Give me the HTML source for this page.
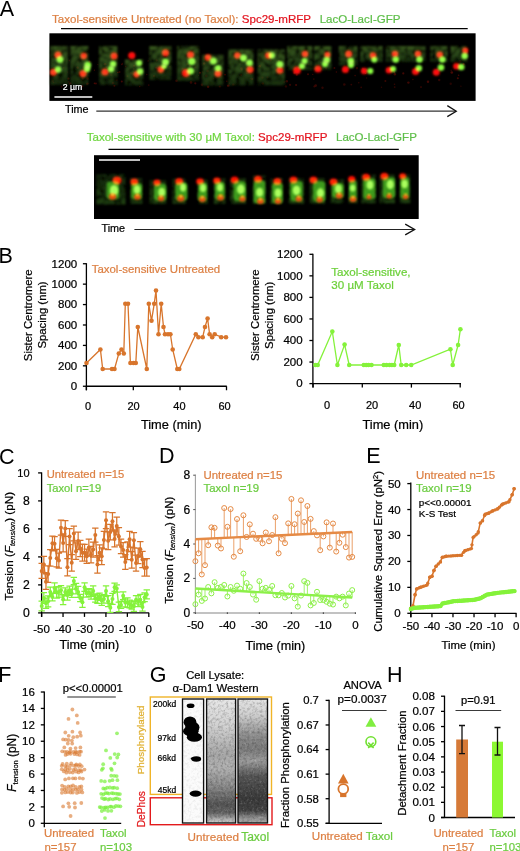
<!DOCTYPE html>
<html><head><meta charset="utf-8"><style>
html,body{margin:0;padding:0;background:#fff;width:520px;height:851px;overflow:hidden}
svg{display:block}
text{font-family:"Liberation Sans", sans-serif}
</style></head><body>
<svg width="520" height="851" viewBox="0 0 520 851">
<defs>
<filter id="blur" x="-50%" y="-50%" width="200%" height="200%"><feGaussianBlur stdDeviation="1.1"/></filter>
<filter id="blur2" x="-50%" y="-50%" width="200%" height="200%"><feGaussianBlur stdDeviation="1.8"/></filter>
<filter id="blur15" x="-50%" y="-50%" width="200%" height="200%"><feGaussianBlur stdDeviation="1.3"/></filter>
<linearGradient id="tg1" x1="0" y1="0" x2="0" y2="1"><stop offset="0" stop-color="#5a8c30"/><stop offset="0.6" stop-color="#44752a"/><stop offset="1" stop-color="#284c16"/></linearGradient>
<linearGradient id="tg2" x1="0" y1="0" x2="0" y2="1"><stop offset="0" stop-color="#2a5018"/><stop offset="1" stop-color="#3c7a22"/></linearGradient>
<filter id="tilebg" x="-15%" y="-15%" width="130%" height="130%"><feTurbulence type="fractalNoise" baseFrequency="0.22" numOctaves="3" seed="5" result="n"/><feColorMatrix in="n" type="matrix" values="2.6 0 0 0 -0.75  2.6 0 0 0 -0.75  2.6 0 0 0 -0.75  0 0 0 0 1" result="g"/><feComposite in="SourceGraphic" in2="g" operator="arithmetic" k1="1" k2="0" k3="0" k4="0" result="m"/><feGaussianBlur in="m" stdDeviation="1.1"/></filter>
<filter id="blur05" x="-50%" y="-50%" width="200%" height="200%"><feGaussianBlur stdDeviation="0.7"/></filter>

<linearGradient id="lane2" x1="0" y1="0" x2="0" y2="1"><stop offset="0" stop-color="#e6e6e6"/><stop offset="0.2" stop-color="#d2d2d2"/><stop offset="0.35" stop-color="#b8b8b8"/><stop offset="0.45" stop-color="#a6a6a6"/><stop offset="0.55" stop-color="#b0b0b0"/><stop offset="0.7" stop-color="#8a8a8a"/><stop offset="0.85" stop-color="#545454"/><stop offset="0.92" stop-color="#646464"/><stop offset="0.97" stop-color="#b0b0b0"/><stop offset="1" stop-color="#c8c8c8"/></linearGradient>
<linearGradient id="lane3" x1="0" y1="0" x2="0" y2="1"><stop offset="0" stop-color="#e2e2e2"/><stop offset="0.12" stop-color="#d0d0d0"/><stop offset="0.3" stop-color="#8c8c8c"/><stop offset="0.4" stop-color="#7a7a7a"/><stop offset="0.5" stop-color="#9a9a9a"/><stop offset="0.62" stop-color="#565656"/><stop offset="0.8" stop-color="#3a3a3a"/><stop offset="0.9" stop-color="#424242"/><stop offset="0.96" stop-color="#909090"/><stop offset="1" stop-color="#a8a8a8"/></linearGradient>
<filter id="noise" x="0" y="0" width="100%" height="100%" filterUnits="objectBoundingBox"><feTurbulence type="fractalNoise" baseFrequency="0.38" numOctaves="3" seed="4" result="n"/><feColorMatrix in="n" type="matrix" values="0 0 0 0 0  0 0 0 0 0  0 0 0 0 0  2.2 0 0 0 -0.95" result="d"/><feComposite in="d" in2="SourceAlpha" operator="in"/></filter>
<filter id="noise2" x="0" y="0" width="100%" height="100%" filterUnits="objectBoundingBox"><feTurbulence type="fractalNoise" baseFrequency="0.42" numOctaves="3" seed="9" result="n"/><feColorMatrix in="n" type="matrix" values="0 0 0 0 1  0 0 0 0 1  0 0 0 0 1  -2.2 0 0 0 1.05" result="d"/><feComposite in="d" in2="SourceAlpha" operator="in"/></filter>
</defs>
<rect width="520" height="851" fill="#fff"/>
<text x="-0.30" y="15.60" font-size="21.5" fill="#000">A</text>
<text x="-1.60" y="263.00" font-size="21.5" fill="#000">B</text>
<text x="-1.00" y="463.60" font-size="21.5" fill="#000">C</text>
<text x="159.00" y="463.00" font-size="21.5" fill="#000">D</text>
<text x="366.30" y="462.80" font-size="21.5" fill="#000">E</text>
<text x="-1.80" y="682.20" font-size="21.5" fill="#000">F</text>
<text x="149.80" y="682.10" font-size="21.5" fill="#000">G</text>
<text x="387.00" y="682.00" font-size="21.5" fill="#000">H</text>
<text x="52" y="22.5" font-size="11.55" stroke-width="0.22"><tspan fill="#dd8044" stroke="#dd8044">Taxol-sensitive Untreated (no Taxol): </tspan><tspan fill="#e3141f" stroke="#e3141f">Spc29-mRFP</tspan><tspan fill="#5fbf4a" stroke="#5fbf4a" dx="8.6">LacO-LacI-GFP</tspan></text>
<line x1="61.00" y1="28.60" x2="467.70" y2="28.60" stroke="#000" stroke-width="1.2" />
<rect x="49.4" y="33.3" width="426.2" height="67.6" fill="#000"/>
<circle cx="187.4" cy="64.2" r="1.1" fill="#5a0a04" opacity="0.43"/>
<circle cx="276.0" cy="70.2" r="0.6" fill="#5a0a04" opacity="0.60"/>
<circle cx="67.7" cy="72.1" r="0.6" fill="#5a0a04" opacity="0.44"/>
<circle cx="229.4" cy="83.2" r="0.7" fill="#5a0a04" opacity="0.49"/>
<circle cx="314.3" cy="86.5" r="1.0" fill="#5a0a04" opacity="0.56"/>
<circle cx="460.1" cy="61.3" r="1.2" fill="#5a0a04" opacity="0.52"/>
<circle cx="112.3" cy="63.3" r="0.8" fill="#5a0a04" opacity="0.73"/>
<circle cx="127.5" cy="76.3" r="1.0" fill="#5a0a04" opacity="0.55"/>
<circle cx="281.0" cy="61.8" r="0.6" fill="#5a0a04" opacity="0.48"/>
<circle cx="336.4" cy="72.0" r="0.8" fill="#5a0a04" opacity="0.63"/>
<circle cx="241.4" cy="68.4" r="1.2" fill="#5a0a04" opacity="0.68"/>
<circle cx="154.0" cy="76.1" r="1.0" fill="#5a0a04" opacity="0.75"/>
<circle cx="356.9" cy="68.1" r="1.3" fill="#5a0a04" opacity="0.45"/>
<circle cx="226.8" cy="81.2" r="0.7" fill="#5a0a04" opacity="0.60"/>
<circle cx="68.4" cy="78.7" r="1.1" fill="#5a0a04" opacity="0.63"/>
<circle cx="417.9" cy="68.8" r="1.1" fill="#5a0a04" opacity="0.64"/>
<circle cx="294.4" cy="72.8" r="1.2" fill="#5a0a04" opacity="0.78"/>
<circle cx="250.2" cy="78.6" r="0.6" fill="#5a0a04" opacity="0.68"/>
<circle cx="322.5" cy="87.8" r="1.2" fill="#5a0a04" opacity="0.51"/>
<circle cx="213.3" cy="78.7" r="0.6" fill="#5a0a04" opacity="0.58"/>
<circle cx="122.2" cy="63.3" r="0.6" fill="#5a0a04" opacity="0.71"/>
<circle cx="106.1" cy="66.9" r="0.9" fill="#5a0a04" opacity="0.75"/>
<circle cx="85.7" cy="72.6" r="1.0" fill="#5a0a04" opacity="0.75"/>
<circle cx="394.5" cy="84.2" r="0.8" fill="#5a0a04" opacity="0.57"/>
<circle cx="202.0" cy="84.8" r="1.3" fill="#5a0a04" opacity="0.46"/>
<circle cx="125.7" cy="66.5" r="0.8" fill="#5a0a04" opacity="0.59"/>
<circle cx="298.3" cy="67.4" r="0.6" fill="#5a0a04" opacity="0.57"/>
<circle cx="206.3" cy="75.9" r="1.3" fill="#5a0a04" opacity="0.68"/>
<circle cx="267.5" cy="77.3" r="1.1" fill="#5a0a04" opacity="0.42"/>
<circle cx="428.0" cy="81.8" r="1.2" fill="#5a0a04" opacity="0.72"/>
<circle cx="216.0" cy="71.2" r="0.7" fill="#5a0a04" opacity="0.65"/>
<circle cx="78.0" cy="61.9" r="0.7" fill="#5a0a04" opacity="0.46"/>
<circle cx="194.1" cy="61.5" r="0.6" fill="#5a0a04" opacity="0.46"/>
<circle cx="94.4" cy="70.2" r="0.6" fill="#5a0a04" opacity="0.75"/>
<circle cx="308.7" cy="64.2" r="0.8" fill="#5a0a04" opacity="0.54"/>
<circle cx="204.2" cy="63.4" r="1.2" fill="#5a0a04" opacity="0.80"/>
<circle cx="246.8" cy="73.5" r="0.7" fill="#5a0a04" opacity="0.44"/>
<circle cx="195.2" cy="67.4" r="1.2" fill="#5a0a04" opacity="0.46"/>
<circle cx="61.7" cy="86.6" r="1.0" fill="#5a0a04" opacity="0.46"/>
<circle cx="279.0" cy="60.8" r="1.0" fill="#5a0a04" opacity="0.79"/>
<circle cx="412.9" cy="79.5" r="0.8" fill="#5a0a04" opacity="0.55"/>
<circle cx="121.8" cy="81.6" r="1.0" fill="#5a0a04" opacity="0.71"/>
<circle cx="189.8" cy="66.2" r="1.2" fill="#5a0a04" opacity="0.79"/>
<circle cx="408.4" cy="82.6" r="1.2" fill="#5a0a04" opacity="0.70"/>
<circle cx="146.8" cy="74.5" r="0.8" fill="#5a0a04" opacity="0.41"/>
<circle cx="63.7" cy="67.8" r="0.8" fill="#5a0a04" opacity="0.68"/>
<circle cx="451.8" cy="72.5" r="1.3" fill="#5a0a04" opacity="0.80"/>
<circle cx="451.2" cy="70.2" r="0.8" fill="#5a0a04" opacity="0.49"/>
<circle cx="134.2" cy="65.7" r="1.0" fill="#5a0a04" opacity="0.76"/>
<circle cx="403.3" cy="73.4" r="1.1" fill="#5a0a04" opacity="0.72"/>
<circle cx="87.4" cy="78.5" r="1.2" fill="#5a0a04" opacity="0.71"/>
<circle cx="365.6" cy="73.4" r="0.7" fill="#5a0a04" opacity="0.72"/>
<circle cx="191.0" cy="82.4" r="1.3" fill="#5a0a04" opacity="0.56"/>
<circle cx="219.8" cy="86.5" r="1.1" fill="#5a0a04" opacity="0.47"/>
<circle cx="105.1" cy="64.2" r="1.2" fill="#5a0a04" opacity="0.72"/>
<circle cx="113.1" cy="83.1" r="1.3" fill="#5a0a04" opacity="0.66"/>
<circle cx="198.5" cy="75.4" r="0.7" fill="#5a0a04" opacity="0.41"/>
<circle cx="457.8" cy="78.2" r="1.0" fill="#5a0a04" opacity="0.77"/>
<circle cx="233.3" cy="84.4" r="1.2" fill="#5a0a04" opacity="0.48"/>
<circle cx="157.3" cy="68.2" r="0.8" fill="#5a0a04" opacity="0.63"/>
<circle cx="160.4" cy="71.7" r="0.7" fill="#5a0a04" opacity="0.76"/>
<circle cx="199.9" cy="72.8" r="1.0" fill="#5a0a04" opacity="0.76"/>
<circle cx="227.8" cy="85.7" r="1.0" fill="#5a0a04" opacity="0.61"/>
<circle cx="270.8" cy="60.5" r="0.9" fill="#5a0a04" opacity="0.47"/>
<circle cx="53.6" cy="82.4" r="0.7" fill="#5a0a04" opacity="0.59"/>
<circle cx="355.1" cy="75.6" r="0.8" fill="#5a0a04" opacity="0.61"/>
<circle cx="284.2" cy="82.0" r="0.7" fill="#5a0a04" opacity="0.62"/>
<circle cx="155.9" cy="67.8" r="1.1" fill="#5a0a04" opacity="0.60"/>
<circle cx="286.8" cy="81.3" r="1.2" fill="#5a0a04" opacity="0.58"/>
<circle cx="308.0" cy="74.2" r="1.0" fill="#5a0a04" opacity="0.68"/>
<circle cx="241.1" cy="74.9" r="0.9" fill="#5a0a04" opacity="0.78"/>
<circle cx="344.3" cy="84.5" r="1.3" fill="#5a0a04" opacity="0.50"/>
<circle cx="285.9" cy="86.4" r="1.2" fill="#5a0a04" opacity="0.45"/>
<circle cx="102.8" cy="72.4" r="0.7" fill="#5a0a04" opacity="0.50"/>
<circle cx="82.6" cy="78.7" r="1.1" fill="#5a0a04" opacity="0.76"/>
<circle cx="116.6" cy="80.1" r="1.1" fill="#5a0a04" opacity="0.46"/>
<circle cx="421.0" cy="87.1" r="0.8" fill="#5a0a04" opacity="0.78"/>
<circle cx="218.5" cy="73.6" r="1.3" fill="#5a0a04" opacity="0.73"/>
<circle cx="119.5" cy="72.1" r="1.0" fill="#5a0a04" opacity="0.54"/>
<circle cx="133.8" cy="68.9" r="1.1" fill="#5a0a04" opacity="0.41"/>
<circle cx="283.6" cy="72.3" r="0.6" fill="#5a0a04" opacity="0.53"/>
<circle cx="312.8" cy="74.3" r="0.6" fill="#5a0a04" opacity="0.79"/>
<circle cx="381.5" cy="87.2" r="0.7" fill="#5a0a04" opacity="0.51"/>
<circle cx="68.5" cy="81.8" r="0.8" fill="#5a0a04" opacity="0.45"/>
<circle cx="228.5" cy="85.5" r="1.2" fill="#5a0a04" opacity="0.50"/>
<circle cx="114.4" cy="85.7" r="1.0" fill="#5a0a04" opacity="0.68"/>
<circle cx="89.4" cy="61.6" r="1.1" fill="#5a0a04" opacity="0.57"/>
<circle cx="82.3" cy="86.3" r="1.0" fill="#5a0a04" opacity="0.72"/>
<circle cx="87.0" cy="84.0" r="0.6" fill="#5a0a04" opacity="0.75"/>
<circle cx="241.7" cy="69.5" r="1.0" fill="#5a0a04" opacity="0.77"/>
<circle cx="164.0" cy="63.6" r="1.0" fill="#5a0a04" opacity="0.50"/>
<circle cx="97.8" cy="64.5" r="0.6" fill="#5a0a04" opacity="0.48"/>
<circle cx="182.4" cy="68.5" r="1.1" fill="#5a0a04" opacity="0.52"/>
<circle cx="261.0" cy="65.0" r="0.8" fill="#5a0a04" opacity="0.41"/>
<circle cx="156.7" cy="60.4" r="1.1" fill="#5a0a04" opacity="0.62"/>
<circle cx="131.2" cy="73.3" r="1.3" fill="#5a0a04" opacity="0.44"/>
<circle cx="394.3" cy="72.1" r="0.9" fill="#5a0a04" opacity="0.73"/>
<circle cx="216.3" cy="74.2" r="1.1" fill="#5a0a04" opacity="0.79"/>
<circle cx="195.3" cy="83.3" r="1.1" fill="#5a0a04" opacity="0.65"/>
<circle cx="221.2" cy="69.7" r="0.6" fill="#5a0a04" opacity="0.45"/>
<circle cx="81.6" cy="80.7" r="0.8" fill="#5a0a04" opacity="0.47"/>
<circle cx="87.3" cy="83.6" r="1.2" fill="#5a0a04" opacity="0.67"/>
<circle cx="169.8" cy="66.8" r="0.8" fill="#5a0a04" opacity="0.58"/>
<circle cx="117.8" cy="72.5" r="0.8" fill="#5a0a04" opacity="0.78"/>
<circle cx="458.6" cy="75.3" r="0.8" fill="#5a0a04" opacity="0.79"/>
<circle cx="181.4" cy="70.0" r="0.6" fill="#5a0a04" opacity="0.55"/>
<circle cx="250.4" cy="74.1" r="0.7" fill="#5a0a04" opacity="0.60"/>
<circle cx="54.1" cy="67.4" r="0.7" fill="#5a0a04" opacity="0.56"/>
<circle cx="69.4" cy="60.6" r="0.8" fill="#5a0a04" opacity="0.49"/>
<circle cx="296.8" cy="74.8" r="1.1" fill="#5a0a04" opacity="0.66"/>
<circle cx="351.3" cy="84.6" r="0.9" fill="#5a0a04" opacity="0.53"/>
<circle cx="463.6" cy="64.2" r="1.1" fill="#5a0a04" opacity="0.66"/>
<circle cx="70.3" cy="83.4" r="1.2" fill="#5a0a04" opacity="0.65"/>
<circle cx="358.8" cy="82.7" r="0.7" fill="#5a0a04" opacity="0.61"/>
<circle cx="262.8" cy="83.4" r="1.2" fill="#5a0a04" opacity="0.73"/>
<circle cx="296.1" cy="85.0" r="1.1" fill="#5a0a04" opacity="0.68"/>
<circle cx="148.1" cy="60.9" r="0.7" fill="#5a0a04" opacity="0.54"/>
<circle cx="95.9" cy="83.4" r="1.0" fill="#5a0a04" opacity="0.65"/>
<circle cx="313.8" cy="79.1" r="0.9" fill="#5a0a04" opacity="0.40"/>
<circle cx="385.4" cy="81.0" r="1.0" fill="#5a0a04" opacity="0.61"/>
<circle cx="327.6" cy="61.8" r="1.1" fill="#5a0a04" opacity="0.50"/>
<circle cx="83.1" cy="67.4" r="1.1" fill="#5a0a04" opacity="0.48"/>
<circle cx="361.2" cy="87.3" r="0.9" fill="#5a0a04" opacity="0.55"/>
<circle cx="252.2" cy="79.1" r="1.1" fill="#5a0a04" opacity="0.65"/>
<circle cx="320.7" cy="62.2" r="0.7" fill="#5a0a04" opacity="0.50"/>
<circle cx="362.7" cy="68.5" r="1.0" fill="#5a0a04" opacity="0.40"/>
<circle cx="77.4" cy="67.5" r="1.1" fill="#5a0a04" opacity="0.68"/>
<circle cx="334.4" cy="68.1" r="1.0" fill="#5a0a04" opacity="0.59"/>
<circle cx="246.9" cy="63.3" r="1.2" fill="#5a0a04" opacity="0.48"/>
<circle cx="460.9" cy="86.2" r="0.6" fill="#5a0a04" opacity="0.58"/>
<circle cx="394.7" cy="87.1" r="0.9" fill="#5a0a04" opacity="0.51"/>
<circle cx="139.7" cy="86.5" r="0.7" fill="#5a0a04" opacity="0.63"/>
<circle cx="111.2" cy="74.7" r="1.3" fill="#5a0a04" opacity="0.45"/>
<circle cx="394.9" cy="74.2" r="1.2" fill="#5a0a04" opacity="0.68"/>
<circle cx="148.7" cy="85.1" r="0.9" fill="#5a0a04" opacity="0.41"/>
<circle cx="53.5" cy="73.8" r="0.9" fill="#5a0a04" opacity="0.52"/>
<circle cx="110.8" cy="69.6" r="0.8" fill="#5a0a04" opacity="0.74"/>
<circle cx="52.7" cy="81.0" r="1.2" fill="#5a0a04" opacity="0.45"/>
<circle cx="439.2" cy="80.0" r="1.2" fill="#5a0a04" opacity="0.52"/>
<circle cx="207.6" cy="71.0" r="1.3" fill="#5a0a04" opacity="0.64"/>
<circle cx="202.8" cy="72.0" r="0.8" fill="#5a0a04" opacity="0.42"/>
<circle cx="94.5" cy="83.4" r="0.8" fill="#5a0a04" opacity="0.77"/>
<circle cx="156.2" cy="67.4" r="1.0" fill="#5a0a04" opacity="0.48"/>
<circle cx="208.1" cy="86.8" r="1.2" fill="#5a0a04" opacity="0.72"/>
<circle cx="315.7" cy="85.6" r="1.3" fill="#5a0a04" opacity="0.62"/>
<circle cx="352.8" cy="61.4" r="1.1" fill="#5a0a04" opacity="0.58"/>
<circle cx="366.6" cy="78.0" r="0.8" fill="#5a0a04" opacity="0.42"/>
<circle cx="439.4" cy="63.6" r="0.9" fill="#5a0a04" opacity="0.54"/>
<circle cx="176.5" cy="80.7" r="1.3" fill="#5a0a04" opacity="0.50"/>
<circle cx="326.2" cy="68.4" r="1.0" fill="#5a0a04" opacity="0.56"/>
<circle cx="121.9" cy="64.5" r="0.7" fill="#5a0a04" opacity="0.76"/>
<circle cx="259.8" cy="66.2" r="1.2" fill="#5a0a04" opacity="0.80"/>
<circle cx="240.1" cy="63.9" r="0.7" fill="#5a0a04" opacity="0.44"/>
<circle cx="194.9" cy="62.6" r="0.8" fill="#5a0a04" opacity="0.50"/>
<circle cx="290.1" cy="84.8" r="1.1" fill="#5a0a04" opacity="0.57"/>
<circle cx="225.0" cy="74.7" r="0.9" fill="#5a0a04" opacity="0.54"/>
<circle cx="77.9" cy="67.8" r="1.3" fill="#5a0a04" opacity="0.45"/>
<circle cx="262.4" cy="77.6" r="1.2" fill="#5a0a04" opacity="0.49"/>
<circle cx="165.3" cy="67.0" r="0.9" fill="#5a0a04" opacity="0.58"/>
<circle cx="450.7" cy="83.8" r="1.2" fill="#5a0a04" opacity="0.41"/>
<rect x="50.4" y="46.0" width="17.8" height="39.0" fill="url(#tg1)" opacity="0.62" filter="url(#tilebg)"/>
<circle cx="58.0" cy="55.0" r="3.5" fill="#ff1008" filter="url(#blur)" style="mix-blend-mode:screen"/>
<circle cx="60.0" cy="59.5" r="3.6" fill="#8aff40" filter="url(#blur)" style="mix-blend-mode:screen"/>
<circle cx="58.0" cy="69.6" r="3.3" fill="#8aff40" filter="url(#blur)" style="mix-blend-mode:screen"/>
<circle cx="53.4" cy="72.3" r="3.5" fill="#ff1008" filter="url(#blur)" style="mix-blend-mode:screen"/>
<rect x="70.2" y="46.0" width="18.2" height="39.0" fill="url(#tg1)" opacity="0.62" filter="url(#tilebg)"/>
<circle cx="83.7" cy="56.0" r="3.3" fill="#ff1008" filter="url(#blur)" style="mix-blend-mode:screen"/>
<circle cx="87.7" cy="65.0" r="3.5" fill="#8aff40" filter="url(#blur)" style="mix-blend-mode:screen"/>
<circle cx="87.0" cy="69.0" r="3.3" fill="#8aff40" filter="url(#blur)" style="mix-blend-mode:screen"/>
<circle cx="83.0" cy="73.6" r="3.6" fill="#ff1008" filter="url(#blur)" style="mix-blend-mode:screen"/>
<rect x="99.0" y="46.0" width="18.5" height="39.0" fill="url(#tg1)" opacity="0.62" filter="url(#tilebg)"/>
<circle cx="114.0" cy="56.0" r="3.5" fill="#ff1008" filter="url(#blur)" style="mix-blend-mode:screen"/>
<circle cx="113.0" cy="64.0" r="3.3" fill="#8aff40" filter="url(#blur)" style="mix-blend-mode:screen"/>
<circle cx="111.0" cy="69.0" r="3.3" fill="#8aff40" filter="url(#blur)" style="mix-blend-mode:screen"/>
<circle cx="105.0" cy="72.0" r="3.6" fill="#ff1008" filter="url(#blur)" style="mix-blend-mode:screen"/>
<rect x="125.0" y="59.5" width="18.3" height="26.0" fill="url(#tg1)" opacity="0.62" filter="url(#tilebg)"/>
<circle cx="131.8" cy="55.5" r="3.6" fill="#ff1008" filter="url(#blur)" style="mix-blend-mode:screen"/>
<circle cx="139.0" cy="63.0" r="3.1" fill="#8aff40" filter="url(#blur)" style="mix-blend-mode:screen"/>
<circle cx="140.0" cy="71.6" r="3.3" fill="#8aff40" filter="url(#blur)" style="mix-blend-mode:screen"/>
<circle cx="136.5" cy="74.3" r="3.1" fill="#ff1008" filter="url(#blur)" style="mix-blend-mode:screen"/>
<rect x="149.3" y="46.0" width="22.2" height="34.0" fill="url(#tg1)" opacity="0.62" filter="url(#tilebg)"/>
<circle cx="165.5" cy="52.8" r="3.6" fill="#ff1008" filter="url(#blur)" style="mix-blend-mode:screen"/>
<circle cx="165.5" cy="62.0" r="3.5" fill="#8aff40" filter="url(#blur)" style="mix-blend-mode:screen"/>
<circle cx="164.0" cy="66.5" r="2.8" fill="#8aff40" filter="url(#blur)" style="mix-blend-mode:screen"/>
<circle cx="160.8" cy="69.6" r="3.3" fill="#ff1008" filter="url(#blur)" style="mix-blend-mode:screen"/>
<rect x="177.0" y="46.0" width="22.2" height="35.0" fill="url(#tg1)" opacity="0.62" filter="url(#tilebg)"/>
<circle cx="190.5" cy="54.8" r="3.6" fill="#ff1008" filter="url(#blur)" style="mix-blend-mode:screen"/>
<circle cx="191.8" cy="61.5" r="3.7" fill="#8aff40" filter="url(#blur)" style="mix-blend-mode:screen"/>
<circle cx="190.5" cy="71.0" r="3.5" fill="#8aff40" filter="url(#blur)" style="mix-blend-mode:screen"/>
<circle cx="185.8" cy="73.0" r="3.9" fill="#ff1008" filter="url(#blur)" style="mix-blend-mode:screen"/>
<rect x="202.0" y="54.8" width="21.5" height="31.0" fill="url(#tg1)" opacity="0.62" filter="url(#tilebg)"/>
<circle cx="208.0" cy="57.5" r="3.3" fill="#ff1008" filter="url(#blur)" style="mix-blend-mode:screen"/>
<circle cx="213.4" cy="61.0" r="3.5" fill="#8aff40" filter="url(#blur)" style="mix-blend-mode:screen"/>
<circle cx="218.0" cy="68.2" r="3.3" fill="#8aff40" filter="url(#blur)" style="mix-blend-mode:screen"/>
<circle cx="218.0" cy="73.6" r="3.5" fill="#ff1008" filter="url(#blur)" style="mix-blend-mode:screen"/>
<rect x="228.2" y="49.4" width="25.3" height="36.0" fill="url(#tg1)" opacity="0.62" filter="url(#tilebg)"/>
<circle cx="237.4" cy="55.5" r="3.3" fill="#ff1008" filter="url(#blur)" style="mix-blend-mode:screen"/>
<circle cx="243.5" cy="58.0" r="3.5" fill="#8aff40" filter="url(#blur)" style="mix-blend-mode:screen"/>
<circle cx="249.5" cy="62.9" r="3.3" fill="#8aff40" filter="url(#blur)" style="mix-blend-mode:screen"/>
<circle cx="250.0" cy="69.6" r="3.6" fill="#ff1008" filter="url(#blur)" style="mix-blend-mode:screen"/>
<rect x="257.6" y="49.4" width="27.4" height="36.0" fill="url(#tg1)" opacity="0.62" filter="url(#tilebg)"/>
<circle cx="268.4" cy="55.5" r="3.3" fill="#ff1008" filter="url(#blur)" style="mix-blend-mode:screen"/>
<circle cx="271.7" cy="55.5" r="3.3" fill="#8aff40" filter="url(#blur)" style="mix-blend-mode:screen"/>
<circle cx="279.8" cy="64.2" r="3.5" fill="#8aff40" filter="url(#blur)" style="mix-blend-mode:screen"/>
<circle cx="279.8" cy="70.3" r="3.5" fill="#ff1008" filter="url(#blur)" style="mix-blend-mode:screen"/>
<rect x="287.0" y="46.0" width="25.6" height="24.0" fill="url(#tg1)" opacity="0.62" filter="url(#tilebg)"/>
<circle cx="305.0" cy="54.0" r="3.3" fill="#ff1008" filter="url(#blur)" style="mix-blend-mode:screen"/>
<circle cx="304.5" cy="61.0" r="3.1" fill="#8aff40" filter="url(#blur)" style="mix-blend-mode:screen"/>
<circle cx="302.0" cy="66.0" r="3.1" fill="#8aff40" filter="url(#blur)" style="mix-blend-mode:screen"/>
<circle cx="297.0" cy="70.3" r="3.9" fill="#ff1008" filter="url(#blur)" style="mix-blend-mode:screen"/>
<rect x="314.0" y="46.0" width="17.4" height="24.0" fill="url(#tg1)" opacity="0.62" filter="url(#tilebg)"/>
<circle cx="327.4" cy="54.8" r="3.1" fill="#ff1008" filter="url(#blur)" style="mix-blend-mode:screen"/>
<circle cx="326.7" cy="60.0" r="3.3" fill="#8aff40" filter="url(#blur)" style="mix-blend-mode:screen"/>
<circle cx="325.0" cy="64.0" r="3.1" fill="#8aff40" filter="url(#blur)" style="mix-blend-mode:screen"/>
<circle cx="318.0" cy="69.0" r="3.6" fill="#ff1008" filter="url(#blur)" style="mix-blend-mode:screen"/>
<rect x="338.8" y="46.0" width="18.7" height="19.5" fill="url(#tg1)" opacity="0.62" filter="url(#tilebg)"/>
<circle cx="348.7" cy="54.0" r="3.5" fill="#ff1008" filter="url(#blur)" style="mix-blend-mode:screen"/>
<circle cx="350.8" cy="61.0" r="3.3" fill="#8aff40" filter="url(#blur)" style="mix-blend-mode:screen"/>
<circle cx="351.0" cy="65.0" r="3.1" fill="#8aff40" filter="url(#blur)" style="mix-blend-mode:screen"/>
<circle cx="345.4" cy="69.6" r="3.5" fill="#ff1008" filter="url(#blur)" style="mix-blend-mode:screen"/>
<rect x="360.2" y="46.0" width="22.8" height="16.0" fill="url(#tg1)" opacity="0.62" filter="url(#tilebg)"/>
<circle cx="373.0" cy="55.5" r="3.3" fill="#ff1008" filter="url(#blur)" style="mix-blend-mode:screen"/>
<circle cx="374.3" cy="59.5" r="3.1" fill="#8aff40" filter="url(#blur)" style="mix-blend-mode:screen"/>
<circle cx="364.2" cy="71.0" r="3.3" fill="#ff1008" filter="url(#blur)" style="mix-blend-mode:screen"/>
<circle cx="370.3" cy="71.0" r="3.1" fill="#8aff40" filter="url(#blur)" style="mix-blend-mode:screen"/>
<rect x="385.8" y="46.0" width="20.8" height="16.0" fill="url(#tg1)" opacity="0.62" filter="url(#tilebg)"/>
<circle cx="395.0" cy="54.0" r="3.3" fill="#ff1008" filter="url(#blur)" style="mix-blend-mode:screen"/>
<circle cx="395.8" cy="59.5" r="3.3" fill="#8aff40" filter="url(#blur)" style="mix-blend-mode:screen"/>
<circle cx="389.0" cy="70.3" r="3.3" fill="#ff1008" filter="url(#blur)" style="mix-blend-mode:screen"/>
<circle cx="393.0" cy="69.0" r="3.1" fill="#8aff40" filter="url(#blur)" style="mix-blend-mode:screen"/>
<rect x="406.7" y="46.0" width="18.9" height="16.0" fill="url(#tg1)" opacity="0.62" filter="url(#tilebg)"/>
<circle cx="418.0" cy="54.0" r="3.3" fill="#ff1008" filter="url(#blur)" style="mix-blend-mode:screen"/>
<circle cx="419.5" cy="59.5" r="3.3" fill="#8aff40" filter="url(#blur)" style="mix-blend-mode:screen"/>
<circle cx="418.8" cy="68.2" r="3.3" fill="#8aff40" filter="url(#blur)" style="mix-blend-mode:screen"/>
<circle cx="415.5" cy="71.6" r="3.5" fill="#ff1008" filter="url(#blur)" style="mix-blend-mode:screen"/>
<rect x="430.3" y="46.0" width="17.5" height="16.0" fill="url(#tg1)" opacity="0.62" filter="url(#tilebg)"/>
<circle cx="439.7" cy="54.8" r="3.3" fill="#ff1008" filter="url(#blur)" style="mix-blend-mode:screen"/>
<circle cx="442.4" cy="59.5" r="3.3" fill="#8aff40" filter="url(#blur)" style="mix-blend-mode:screen"/>
<circle cx="441.0" cy="67.6" r="3.3" fill="#8aff40" filter="url(#blur)" style="mix-blend-mode:screen"/>
<circle cx="436.3" cy="72.3" r="3.5" fill="#ff1008" filter="url(#blur)" style="mix-blend-mode:screen"/>
<rect x="450.5" y="46.0" width="16.8" height="16.0" fill="url(#tg1)" opacity="0.62" filter="url(#tilebg)"/>
<circle cx="465.3" cy="50.7" r="3.1" fill="#ff1008" filter="url(#blur)" style="mix-blend-mode:screen"/>
<circle cx="464.6" cy="56.0" r="3.3" fill="#8aff40" filter="url(#blur)" style="mix-blend-mode:screen"/>
<circle cx="461.2" cy="67.0" r="3.3" fill="#8aff40" filter="url(#blur)" style="mix-blend-mode:screen"/>
<circle cx="456.5" cy="66.2" r="3.3" fill="#ff1008" filter="url(#blur)" style="mix-blend-mode:screen"/>
<line x1="54.40" y1="97.00" x2="92.30" y2="97.00" stroke="#fff" stroke-width="1.6" />
<text x="62.70" y="90.00" font-size="8.7" fill="#fff" stroke="#fff" stroke-width="0.22" text-anchor="start" >2 µm</text>
<text x="65.00" y="113.00" font-size="10.8" fill="#000" stroke="#000" stroke-width="0.22" text-anchor="start" >Time</text>
<line x1="96.30" y1="111.20" x2="455.50" y2="111.20" stroke="#333" stroke-width="1.2" />
<polyline points="447.3,105.6 456.3,111.2 447.3,116.6" fill="none" stroke="#111" stroke-width="1.25"/>
<text x="86.7" y="141.2" font-size="11.55" stroke-width="0.22"><tspan fill="#6fd640" stroke="#6fd640">Taxol-sensitive with 30 µM Taxol: </tspan><tspan fill="#e3141f" stroke="#e3141f">Spc29-mRFP</tspan><tspan fill="#5fbf4a" stroke="#5fbf4a" dx="8.6">LacO-LacI-GFP</tspan></text>
<line x1="108.50" y1="149.40" x2="398.80" y2="149.40" stroke="#000" stroke-width="1.2" />
<rect x="94" y="155.2" width="324.7" height="63.8" fill="#000"/>
<rect x="96.3" y="174.0" width="29.2" height="30.5" fill="url(#tg2)" opacity="0.55" filter="url(#tilebg)"/>
<rect x="106.6" y="181.4" width="12.4" height="17.3" rx="3.5" fill="#4cbc22" opacity="0.78" filter="url(#blur15)"/>
<ellipse cx="114.0" cy="190.4" rx="4.2" ry="5.5" fill="#90ff48" filter="url(#blur)" style="mix-blend-mode:screen"/>
<ellipse cx="112.5" cy="196.7" rx="3.7" ry="3.0" fill="#ff4008" opacity="0.85" filter="url(#blur)"/>
<circle cx="112.5" cy="194.7" r="1.6" fill="#ffb010" filter="url(#blur)" style="mix-blend-mode:screen"/>
<ellipse cx="117.0" cy="180.4" rx="4.5" ry="4.0" fill="#ff0a04" filter="url(#blur)" style="mix-blend-mode:screen"/>
<rect x="130.0" y="178.0" width="12.5" height="26.0" fill="url(#tg2)" opacity="0.55" filter="url(#tilebg)"/>
<rect x="131.2" y="183.0" width="10.9" height="16.0" rx="3.5" fill="#4cbc22" opacity="0.78" filter="url(#blur15)"/>
<ellipse cx="137.0" cy="189.6" rx="3.3" ry="4.3" fill="#90ff48" filter="url(#blur)" style="mix-blend-mode:screen"/>
<ellipse cx="137.4" cy="197.0" rx="3.4" ry="2.8" fill="#ff4008" opacity="0.85" filter="url(#blur)"/>
<circle cx="137.4" cy="195.0" r="1.5" fill="#ffb010" filter="url(#blur)" style="mix-blend-mode:screen"/>
<ellipse cx="134.3" cy="182.0" rx="3.9" ry="3.4" fill="#ff0a04" filter="url(#blur)" style="mix-blend-mode:screen"/>
<rect x="149.4" y="180.0" width="16.9" height="24.0" fill="url(#tg2)" opacity="0.55" filter="url(#tilebg)"/>
<rect x="154.0" y="183.7" width="12.4" height="16.8" rx="3.5" fill="#4cbc22" opacity="0.78" filter="url(#blur15)"/>
<ellipse cx="161.7" cy="192.2" rx="3.4" ry="4.4" fill="#90ff48" filter="url(#blur)" style="mix-blend-mode:screen"/>
<ellipse cx="161.0" cy="198.5" rx="3.2" ry="2.7" fill="#ff4008" opacity="0.85" filter="url(#blur)"/>
<circle cx="161.0" cy="196.5" r="1.4" fill="#ffb010" filter="url(#blur)" style="mix-blend-mode:screen"/>
<ellipse cx="157.0" cy="182.7" rx="3.6" ry="3.2" fill="#ff0a04" filter="url(#blur)" style="mix-blend-mode:screen"/>
<rect x="172.3" y="178.5" width="13.7" height="25.3" fill="url(#tg2)" opacity="0.55" filter="url(#tilebg)"/>
<rect x="175.4" y="182.5" width="12.1" height="17.9" rx="3.5" fill="#4cbc22" opacity="0.78" filter="url(#blur15)"/>
<ellipse cx="183.0" cy="187.5" rx="3.0" ry="3.9" fill="#90ff48" filter="url(#blur)" style="mix-blend-mode:screen"/>
<ellipse cx="180.8" cy="198.4" rx="3.7" ry="3.0" fill="#ff4008" opacity="0.85" filter="url(#blur)"/>
<circle cx="180.8" cy="196.4" r="1.6" fill="#ffb010" filter="url(#blur)" style="mix-blend-mode:screen"/>
<ellipse cx="179.2" cy="181.5" rx="4.0" ry="3.5" fill="#ff0a04" filter="url(#blur)" style="mix-blend-mode:screen"/>
<rect x="197.0" y="179.0" width="10.7" height="24.8" fill="url(#tg2)" opacity="0.55" filter="url(#tilebg)"/>
<rect x="198.2" y="182.5" width="9.1" height="18.7" rx="3.5" fill="#4cbc22" opacity="0.78" filter="url(#blur15)"/>
<ellipse cx="203.0" cy="188.0" rx="3.0" ry="3.9" fill="#90ff48" filter="url(#blur)" style="mix-blend-mode:screen"/>
<ellipse cx="202.3" cy="199.2" rx="3.4" ry="2.8" fill="#ff4008" opacity="0.85" filter="url(#blur)"/>
<circle cx="202.3" cy="197.2" r="1.5" fill="#ffb010" filter="url(#blur)" style="mix-blend-mode:screen"/>
<ellipse cx="200.0" cy="181.5" rx="3.8" ry="3.3" fill="#ff0a04" filter="url(#blur)" style="mix-blend-mode:screen"/>
<rect x="213.8" y="178.0" width="11.6" height="25.8" fill="url(#tg2)" opacity="0.55" filter="url(#tilebg)"/>
<rect x="214.8" y="181.8" width="10.0" height="17.9" rx="3.5" fill="#4cbc22" opacity="0.78" filter="url(#blur15)"/>
<ellipse cx="220.0" cy="187.5" rx="3.0" ry="3.9" fill="#90ff48" filter="url(#blur)" style="mix-blend-mode:screen"/>
<ellipse cx="220.5" cy="197.7" rx="3.4" ry="2.8" fill="#ff4008" opacity="0.85" filter="url(#blur)"/>
<circle cx="220.5" cy="195.7" r="1.5" fill="#ffb010" filter="url(#blur)" style="mix-blend-mode:screen"/>
<ellipse cx="217.0" cy="180.8" rx="3.8" ry="3.3" fill="#ff0a04" filter="url(#blur)" style="mix-blend-mode:screen"/>
<rect x="230.0" y="178.0" width="16.0" height="25.8" fill="url(#tg2)" opacity="0.55" filter="url(#tilebg)"/>
<rect x="233.5" y="181.0" width="12.4" height="19.9" rx="3.5" fill="#4cbc22" opacity="0.78" filter="url(#blur15)"/>
<ellipse cx="240.8" cy="189.2" rx="3.8" ry="4.9" fill="#90ff48" filter="url(#blur)" style="mix-blend-mode:screen"/>
<ellipse cx="242.3" cy="198.9" rx="3.2" ry="2.7" fill="#ff4008" opacity="0.85" filter="url(#blur)"/>
<circle cx="242.3" cy="196.9" r="1.4" fill="#ffb010" filter="url(#blur)" style="mix-blend-mode:screen"/>
<ellipse cx="234.6" cy="180.0" rx="4.0" ry="3.5" fill="#ff0a04" filter="url(#blur)" style="mix-blend-mode:screen"/>
<rect x="252.7" y="175.4" width="13.1" height="28.4" fill="url(#tg2)" opacity="0.55" filter="url(#tilebg)"/>
<rect x="253.7" y="180.2" width="11.5" height="23.0" rx="3.5" fill="#4cbc22" opacity="0.78" filter="url(#blur15)"/>
<ellipse cx="259.6" cy="192.3" rx="3.5" ry="4.5" fill="#90ff48" filter="url(#blur)" style="mix-blend-mode:screen"/>
<ellipse cx="260.4" cy="201.2" rx="3.4" ry="2.8" fill="#ff4008" opacity="0.85" filter="url(#blur)"/>
<circle cx="260.4" cy="199.2" r="1.5" fill="#ffb010" filter="url(#blur)" style="mix-blend-mode:screen"/>
<ellipse cx="258.0" cy="179.2" rx="4.0" ry="3.5" fill="#ff0a04" filter="url(#blur)" style="mix-blend-mode:screen"/>
<rect x="270.4" y="178.0" width="12.3" height="25.8" fill="url(#tg2)" opacity="0.55" filter="url(#tilebg)"/>
<rect x="272.1" y="182.5" width="10.7" height="20.7" rx="3.5" fill="#4cbc22" opacity="0.78" filter="url(#blur15)"/>
<ellipse cx="278.0" cy="193.0" rx="3.4" ry="4.4" fill="#90ff48" filter="url(#blur)" style="mix-blend-mode:screen"/>
<ellipse cx="278.0" cy="201.2" rx="3.2" ry="2.7" fill="#ff4008" opacity="0.85" filter="url(#blur)"/>
<circle cx="278.0" cy="199.2" r="1.4" fill="#ffb010" filter="url(#blur)" style="mix-blend-mode:screen"/>
<ellipse cx="277.3" cy="181.5" rx="4.0" ry="3.5" fill="#ff0a04" filter="url(#blur)" style="mix-blend-mode:screen"/>
<rect x="288.8" y="178.0" width="15.4" height="25.8" fill="url(#tg2)" opacity="0.55" filter="url(#tilebg)"/>
<rect x="290.3" y="181.0" width="12.4" height="19.9" rx="3.5" fill="#4cbc22" opacity="0.78" filter="url(#blur15)"/>
<ellipse cx="296.5" cy="190.3" rx="3.8" ry="4.9" fill="#90ff48" filter="url(#blur)" style="mix-blend-mode:screen"/>
<ellipse cx="298.8" cy="198.9" rx="3.2" ry="2.7" fill="#ff4008" opacity="0.85" filter="url(#blur)"/>
<circle cx="298.8" cy="196.9" r="1.4" fill="#ffb010" filter="url(#blur)" style="mix-blend-mode:screen"/>
<ellipse cx="293.5" cy="180.0" rx="4.0" ry="3.5" fill="#ff0a04" filter="url(#blur)" style="mix-blend-mode:screen"/>
<rect x="309.6" y="178.0" width="15.4" height="25.8" fill="url(#tg2)" opacity="0.55" filter="url(#tilebg)"/>
<rect x="313.0" y="181.0" width="12.4" height="20.7" rx="3.5" fill="#4cbc22" opacity="0.78" filter="url(#blur15)"/>
<ellipse cx="320.4" cy="193.0" rx="3.6" ry="4.7" fill="#90ff48" filter="url(#blur)" style="mix-blend-mode:screen"/>
<ellipse cx="319.6" cy="199.7" rx="3.2" ry="2.7" fill="#ff4008" opacity="0.85" filter="url(#blur)"/>
<circle cx="319.6" cy="197.7" r="1.4" fill="#ffb010" filter="url(#blur)" style="mix-blend-mode:screen"/>
<ellipse cx="313.5" cy="180.0" rx="4.0" ry="3.5" fill="#ff0a04" filter="url(#blur)" style="mix-blend-mode:screen"/>
<rect x="330.6" y="179.2" width="13.4" height="24.1" fill="url(#tg2)" opacity="0.55" filter="url(#tilebg)"/>
<rect x="332.0" y="183.0" width="11.8" height="14.8" rx="3.5" fill="#4cbc22" opacity="0.78" filter="url(#blur15)"/>
<ellipse cx="338.3" cy="188.8" rx="3.4" ry="4.4" fill="#90ff48" filter="url(#blur)" style="mix-blend-mode:screen"/>
<ellipse cx="339.2" cy="195.8" rx="3.4" ry="2.8" fill="#ff4008" opacity="0.85" filter="url(#blur)"/>
<circle cx="339.2" cy="193.8" r="1.5" fill="#ffb010" filter="url(#blur)" style="mix-blend-mode:screen"/>
<ellipse cx="333.5" cy="182.0" rx="4.0" ry="3.5" fill="#ff0a04" filter="url(#blur)" style="mix-blend-mode:screen"/>
<rect x="348.5" y="179.0" width="9.0" height="24.3" fill="url(#tg2)" opacity="0.55" filter="url(#tilebg)"/>
<rect x="349.1" y="180.2" width="7.4" height="21.0" rx="3.5" fill="#4cbc22" opacity="0.78" filter="url(#blur15)"/>
<ellipse cx="352.7" cy="188.0" rx="2.8" ry="3.6" fill="#90ff48" filter="url(#blur)" style="mix-blend-mode:screen"/>
<ellipse cx="353.0" cy="199.2" rx="3.4" ry="2.8" fill="#ff4008" opacity="0.85" filter="url(#blur)"/>
<circle cx="353.0" cy="197.2" r="1.5" fill="#ffb010" filter="url(#blur)" style="mix-blend-mode:screen"/>
<ellipse cx="351.7" cy="179.2" rx="3.6" ry="3.2" fill="#ff0a04" filter="url(#blur)" style="mix-blend-mode:screen"/>
<rect x="361.3" y="174.4" width="14.5" height="28.9" fill="url(#tg2)" opacity="0.55" filter="url(#tilebg)"/>
<rect x="363.2" y="178.3" width="12.4" height="20.9" rx="3.5" fill="#4cbc22" opacity="0.78" filter="url(#blur15)"/>
<ellipse cx="370.0" cy="185.0" rx="3.4" ry="4.4" fill="#90ff48" filter="url(#blur)" style="mix-blend-mode:screen"/>
<ellipse cx="369.0" cy="197.2" rx="2.5" ry="2.1" fill="#ff4008" opacity="0.85" filter="url(#blur)"/>
<circle cx="369.0" cy="195.2" r="1.1" fill="#ffb010" filter="url(#blur)" style="mix-blend-mode:screen"/>
<ellipse cx="366.2" cy="177.3" rx="4.0" ry="3.5" fill="#ff0a04" filter="url(#blur)" style="mix-blend-mode:screen"/>
<rect x="379.6" y="174.4" width="15.4" height="28.9" fill="url(#tg2)" opacity="0.55" filter="url(#tilebg)"/>
<rect x="382.8" y="177.3" width="12.4" height="20.9" rx="3.5" fill="#4cbc22" opacity="0.78" filter="url(#blur15)"/>
<ellipse cx="390.2" cy="184.5" rx="3.6" ry="4.7" fill="#90ff48" filter="url(#blur)" style="mix-blend-mode:screen"/>
<ellipse cx="389.2" cy="196.2" rx="2.8" ry="2.3" fill="#ff4008" opacity="0.85" filter="url(#blur)"/>
<circle cx="389.2" cy="194.2" r="1.2" fill="#ffb010" filter="url(#blur)" style="mix-blend-mode:screen"/>
<ellipse cx="384.4" cy="176.3" rx="4.0" ry="3.5" fill="#ff0a04" filter="url(#blur)" style="mix-blend-mode:screen"/>
<rect x="399.8" y="174.4" width="10.6" height="28.9" fill="url(#tg2)" opacity="0.55" filter="url(#tilebg)"/>
<rect x="400.3" y="177.3" width="9.0" height="21.5" rx="3.5" fill="#4cbc22" opacity="0.78" filter="url(#blur15)"/>
<ellipse cx="404.6" cy="184.0" rx="3.2" ry="4.2" fill="#90ff48" filter="url(#blur)" style="mix-blend-mode:screen"/>
<ellipse cx="405.6" cy="196.8" rx="2.8" ry="2.3" fill="#ff4008" opacity="0.85" filter="url(#blur)"/>
<circle cx="405.6" cy="194.8" r="1.2" fill="#ffb010" filter="url(#blur)" style="mix-blend-mode:screen"/>
<ellipse cx="402.7" cy="176.3" rx="3.5" ry="3.1" fill="#ff0a04" filter="url(#blur)" style="mix-blend-mode:screen"/>
<line x1="99.00" y1="160.00" x2="140.00" y2="160.00" stroke="#fff" stroke-width="1.6" />
<text x="101.50" y="232.30" font-size="10.8" fill="#000" stroke="#000" stroke-width="0.22" text-anchor="start" >Time</text>
<line x1="134.40" y1="229.50" x2="414.00" y2="229.50" stroke="#222" stroke-width="1.1" />
<polyline points="405.2,224.2 414.6,229.5 405.2,234.9" fill="none" stroke="#111" stroke-width="1.35"/>
<line x1="86.40" y1="263.20" x2="86.40" y2="390.25" stroke="#000" stroke-width="1.3" />
<line x1="85.80" y1="386.25" x2="226.80" y2="386.25" stroke="#000" stroke-width="1.3" />
<line x1="82.90" y1="386.25" x2="86.40" y2="386.25" stroke="#000" stroke-width="1.3" />
<text x="77.20" y="390.05" font-size="11.5" fill="#000" stroke="#000" stroke-width="0.22" text-anchor="end" >0</text>
<line x1="82.90" y1="365.83" x2="86.40" y2="365.83" stroke="#000" stroke-width="1.3" />
<text x="77.20" y="369.63" font-size="11.5" fill="#000" stroke="#000" stroke-width="0.22" text-anchor="end" >200</text>
<line x1="82.90" y1="345.41" x2="86.40" y2="345.41" stroke="#000" stroke-width="1.3" />
<text x="77.20" y="349.21" font-size="11.5" fill="#000" stroke="#000" stroke-width="0.22" text-anchor="end" >400</text>
<line x1="82.90" y1="324.99" x2="86.40" y2="324.99" stroke="#000" stroke-width="1.3" />
<text x="77.20" y="328.79" font-size="11.5" fill="#000" stroke="#000" stroke-width="0.22" text-anchor="end" >600</text>
<line x1="82.90" y1="304.57" x2="86.40" y2="304.57" stroke="#000" stroke-width="1.3" />
<text x="77.20" y="308.37" font-size="11.5" fill="#000" stroke="#000" stroke-width="0.22" text-anchor="end" >800</text>
<line x1="82.90" y1="284.15" x2="86.40" y2="284.15" stroke="#000" stroke-width="1.3" />
<text x="77.20" y="287.95" font-size="11.5" fill="#000" stroke="#000" stroke-width="0.22" text-anchor="end" >1000</text>
<line x1="82.90" y1="263.73" x2="86.40" y2="263.73" stroke="#000" stroke-width="1.3" />
<text x="77.20" y="267.53" font-size="11.5" fill="#000" stroke="#000" stroke-width="0.22" text-anchor="end" >1200</text>
<line x1="86.40" y1="386.25" x2="86.40" y2="390.25" stroke="#000" stroke-width="1.3" />
<line x1="133.30" y1="386.25" x2="133.30" y2="390.25" stroke="#000" stroke-width="1.3" />
<line x1="180.00" y1="386.25" x2="180.00" y2="390.25" stroke="#000" stroke-width="1.3" />
<line x1="226.50" y1="386.25" x2="226.50" y2="390.25" stroke="#000" stroke-width="1.3" />
<text x="88.00" y="409.80" font-size="11" fill="#000" stroke="#000" stroke-width="0.22" text-anchor="middle" >0</text>
<text x="133.50" y="409.80" font-size="11" fill="#000" stroke="#000" stroke-width="0.22" text-anchor="middle" >20</text>
<text x="179.40" y="409.80" font-size="11" fill="#000" stroke="#000" stroke-width="0.22" text-anchor="middle" >40</text>
<text x="224.60" y="409.80" font-size="11" fill="#000" stroke="#000" stroke-width="0.22" text-anchor="middle" >60</text>
<text x="140.90" y="428.80" font-size="12.8" fill="#000" stroke="#000" stroke-width="0.22" text-anchor="start" >Time (min)</text>
<text x="91.70" y="272.70" font-size="11.45" fill="#dd8044" stroke="#dd8044" stroke-width="0.22" text-anchor="start" >Taxol-sensitive Untreated</text>
<text transform="translate(32.40,315.30) rotate(-90)" x="0" y="0" font-size="11.3" fill="#000" stroke="#000" stroke-width="0.22" text-anchor="middle" >Sister Centromere</text>
<text transform="translate(45.80,315.00) rotate(-90)" x="0" y="0" font-size="11.3" fill="#000" stroke="#000" stroke-width="0.22" text-anchor="middle" >Spacing (nm)</text>
<polyline points="86.5,363.0 100.4,349.5 102.7,369.0 112.0,369.0 114.5,369.0 118.8,353.5 121.5,349.5 123.8,353.5 125.3,303.8 128.0,303.8 130.4,363.0 133.5,363.0 135.8,363.0 137.8,327.0 146.8,369.0 148.8,303.8 151.5,320.8 154.2,303.8 156.0,290.5 158.5,334.2 161.2,303.8 163.5,327.0 165.0,334.2 168.0,334.2 170.4,334.2 172.7,349.5 177.3,369.0 179.3,369.0 195.8,334.2 198.4,337.2 202.7,337.2 205.0,327.0 207.6,318.5 209.6,334.2 212.2,337.2 214.7,334.2 221.2,337.2 226.0,337.2" fill="none" stroke="#d8752c" stroke-width="1.3"/>
<circle cx="86.5" cy="363.0" r="2.3" fill="#d8752c"/>
<circle cx="100.4" cy="349.5" r="2.3" fill="#d8752c"/>
<circle cx="102.7" cy="369.0" r="2.3" fill="#d8752c"/>
<circle cx="112.0" cy="369.0" r="2.3" fill="#d8752c"/>
<circle cx="114.5" cy="369.0" r="2.3" fill="#d8752c"/>
<circle cx="118.8" cy="353.5" r="2.3" fill="#d8752c"/>
<circle cx="121.5" cy="349.5" r="2.3" fill="#d8752c"/>
<circle cx="123.8" cy="353.5" r="2.3" fill="#d8752c"/>
<circle cx="125.3" cy="303.8" r="2.3" fill="#d8752c"/>
<circle cx="128.0" cy="303.8" r="2.3" fill="#d8752c"/>
<circle cx="130.4" cy="363.0" r="2.3" fill="#d8752c"/>
<circle cx="133.5" cy="363.0" r="2.3" fill="#d8752c"/>
<circle cx="135.8" cy="363.0" r="2.3" fill="#d8752c"/>
<circle cx="137.8" cy="327.0" r="2.3" fill="#d8752c"/>
<circle cx="146.8" cy="369.0" r="2.3" fill="#d8752c"/>
<circle cx="148.8" cy="303.8" r="2.3" fill="#d8752c"/>
<circle cx="151.5" cy="320.8" r="2.3" fill="#d8752c"/>
<circle cx="154.2" cy="303.8" r="2.3" fill="#d8752c"/>
<circle cx="156.0" cy="290.5" r="2.3" fill="#d8752c"/>
<circle cx="158.5" cy="334.2" r="2.3" fill="#d8752c"/>
<circle cx="161.2" cy="303.8" r="2.3" fill="#d8752c"/>
<circle cx="163.5" cy="327.0" r="2.3" fill="#d8752c"/>
<circle cx="165.0" cy="334.2" r="2.3" fill="#d8752c"/>
<circle cx="168.0" cy="334.2" r="2.3" fill="#d8752c"/>
<circle cx="170.4" cy="334.2" r="2.3" fill="#d8752c"/>
<circle cx="172.7" cy="349.5" r="2.3" fill="#d8752c"/>
<circle cx="177.3" cy="369.0" r="2.3" fill="#d8752c"/>
<circle cx="179.3" cy="369.0" r="2.3" fill="#d8752c"/>
<circle cx="195.8" cy="334.2" r="2.3" fill="#d8752c"/>
<circle cx="198.4" cy="337.2" r="2.3" fill="#d8752c"/>
<circle cx="202.7" cy="337.2" r="2.3" fill="#d8752c"/>
<circle cx="205.0" cy="327.0" r="2.3" fill="#d8752c"/>
<circle cx="207.6" cy="318.5" r="2.3" fill="#d8752c"/>
<circle cx="209.6" cy="334.2" r="2.3" fill="#d8752c"/>
<circle cx="212.2" cy="337.2" r="2.3" fill="#d8752c"/>
<circle cx="214.7" cy="334.2" r="2.3" fill="#d8752c"/>
<circle cx="221.2" cy="337.2" r="2.3" fill="#d8752c"/>
<circle cx="226.0" cy="337.2" r="2.3" fill="#d8752c"/>
<line x1="312.90" y1="253.80" x2="312.90" y2="387.60" stroke="#000" stroke-width="1.3" />
<line x1="312.30" y1="383.60" x2="461.00" y2="383.60" stroke="#000" stroke-width="1.3" />
<line x1="309.40" y1="383.60" x2="312.90" y2="383.60" stroke="#000" stroke-width="1.3" />
<text x="302.60" y="387.40" font-size="11.5" fill="#000" stroke="#000" stroke-width="0.22" text-anchor="end" >0</text>
<line x1="309.40" y1="362.05" x2="312.90" y2="362.05" stroke="#000" stroke-width="1.3" />
<text x="302.60" y="365.85" font-size="11.5" fill="#000" stroke="#000" stroke-width="0.22" text-anchor="end" >200</text>
<line x1="309.40" y1="340.50" x2="312.90" y2="340.50" stroke="#000" stroke-width="1.3" />
<text x="302.60" y="344.30" font-size="11.5" fill="#000" stroke="#000" stroke-width="0.22" text-anchor="end" >400</text>
<line x1="309.40" y1="318.95" x2="312.90" y2="318.95" stroke="#000" stroke-width="1.3" />
<text x="302.60" y="322.75" font-size="11.5" fill="#000" stroke="#000" stroke-width="0.22" text-anchor="end" >600</text>
<line x1="309.40" y1="297.40" x2="312.90" y2="297.40" stroke="#000" stroke-width="1.3" />
<text x="302.60" y="301.20" font-size="11.5" fill="#000" stroke="#000" stroke-width="0.22" text-anchor="end" >800</text>
<line x1="309.40" y1="275.85" x2="312.90" y2="275.85" stroke="#000" stroke-width="1.3" />
<text x="302.60" y="279.65" font-size="11.5" fill="#000" stroke="#000" stroke-width="0.22" text-anchor="end" >1000</text>
<line x1="309.40" y1="254.30" x2="312.90" y2="254.30" stroke="#000" stroke-width="1.3" />
<text x="302.60" y="258.10" font-size="11.5" fill="#000" stroke="#000" stroke-width="0.22" text-anchor="end" >1200</text>
<line x1="313.10" y1="383.60" x2="313.10" y2="387.60" stroke="#000" stroke-width="1.3" />
<line x1="362.30" y1="383.60" x2="362.30" y2="387.60" stroke="#000" stroke-width="1.3" />
<line x1="411.40" y1="383.60" x2="411.40" y2="387.60" stroke="#000" stroke-width="1.3" />
<line x1="460.20" y1="383.60" x2="460.20" y2="387.60" stroke="#000" stroke-width="1.3" />
<text x="327.00" y="408.80" font-size="11" fill="#000" stroke="#000" stroke-width="0.22" text-anchor="middle" >0</text>
<text x="372.00" y="408.80" font-size="11" fill="#000" stroke="#000" stroke-width="0.22" text-anchor="middle" >20</text>
<text x="415.20" y="408.80" font-size="11" fill="#000" stroke="#000" stroke-width="0.22" text-anchor="middle" >40</text>
<text x="458.50" y="408.80" font-size="11" fill="#000" stroke="#000" stroke-width="0.22" text-anchor="middle" >60</text>
<text x="362.50" y="428.80" font-size="12.8" fill="#000" stroke="#000" stroke-width="0.22" text-anchor="start" >Time (min)</text>
<text x="331.30" y="275.50" font-size="11.6" fill="#6cd03a" stroke="#6cd03a" stroke-width="0.22" text-anchor="start" >Taxol-sensitive,</text>
<text x="331.30" y="288.90" font-size="11.6" fill="#6cd03a" stroke="#6cd03a" stroke-width="0.22" text-anchor="start" >30 µM Taxol</text>
<text transform="translate(259.00,315.20) rotate(-90)" x="0" y="0" font-size="11.3" fill="#000" stroke="#000" stroke-width="0.22" text-anchor="middle" >Sister Centromere</text>
<text transform="translate(273.00,315.30) rotate(-90)" x="0" y="0" font-size="11.3" fill="#000" stroke="#000" stroke-width="0.22" text-anchor="middle" >Spacing (nm)</text>
<polyline points="315.4,365.0 317.7,365.0 332.3,331.5 337.4,365.0 344.6,344.6 349.2,365.0 363.8,365.0 366.2,365.0 368.5,365.0 371.5,365.0 383.8,365.0 386.5,365.0 389.6,365.0 391.9,365.0 394.2,365.0 398.8,345.0 401.2,365.0 406.2,365.0 411.2,365.0 450.4,349.2 452.7,365.0 458.1,345.0 460.4,329.2" fill="none" stroke="#84f23a" stroke-width="1.3"/>
<circle cx="315.4" cy="365.0" r="2.3" fill="#84f23a"/>
<circle cx="317.7" cy="365.0" r="2.3" fill="#84f23a"/>
<circle cx="332.3" cy="331.5" r="2.3" fill="#84f23a"/>
<circle cx="337.4" cy="365.0" r="2.3" fill="#84f23a"/>
<circle cx="344.6" cy="344.6" r="2.3" fill="#84f23a"/>
<circle cx="349.2" cy="365.0" r="2.3" fill="#84f23a"/>
<circle cx="363.8" cy="365.0" r="2.3" fill="#84f23a"/>
<circle cx="366.2" cy="365.0" r="2.3" fill="#84f23a"/>
<circle cx="368.5" cy="365.0" r="2.3" fill="#84f23a"/>
<circle cx="371.5" cy="365.0" r="2.3" fill="#84f23a"/>
<circle cx="383.8" cy="365.0" r="2.3" fill="#84f23a"/>
<circle cx="386.5" cy="365.0" r="2.3" fill="#84f23a"/>
<circle cx="389.6" cy="365.0" r="2.3" fill="#84f23a"/>
<circle cx="391.9" cy="365.0" r="2.3" fill="#84f23a"/>
<circle cx="394.2" cy="365.0" r="2.3" fill="#84f23a"/>
<circle cx="398.8" cy="345.0" r="2.3" fill="#84f23a"/>
<circle cx="401.2" cy="365.0" r="2.3" fill="#84f23a"/>
<circle cx="406.2" cy="365.0" r="2.3" fill="#84f23a"/>
<circle cx="411.2" cy="365.0" r="2.3" fill="#84f23a"/>
<circle cx="450.4" cy="349.2" r="2.3" fill="#84f23a"/>
<circle cx="452.7" cy="365.0" r="2.3" fill="#84f23a"/>
<circle cx="458.1" cy="345.0" r="2.3" fill="#84f23a"/>
<circle cx="460.4" cy="329.2" r="2.3" fill="#84f23a"/>
<line x1="41.60" y1="472.40" x2="41.60" y2="616.90" stroke="#000" stroke-width="1.3" />
<line x1="41.00" y1="612.90" x2="149.20" y2="612.90" stroke="#000" stroke-width="1.3" />
<line x1="38.10" y1="612.90" x2="41.60" y2="612.90" stroke="#000" stroke-width="1.3" />
<text x="29.80" y="617.10" font-size="12.2" fill="#000" stroke="#000" stroke-width="0.22" text-anchor="end" >0</text>
<line x1="38.10" y1="584.90" x2="41.60" y2="584.90" stroke="#000" stroke-width="1.3" />
<text x="29.80" y="589.10" font-size="12.2" fill="#000" stroke="#000" stroke-width="0.22" text-anchor="end" >2</text>
<line x1="38.10" y1="556.90" x2="41.60" y2="556.90" stroke="#000" stroke-width="1.3" />
<text x="29.80" y="561.10" font-size="12.2" fill="#000" stroke="#000" stroke-width="0.22" text-anchor="end" >4</text>
<line x1="38.10" y1="528.90" x2="41.60" y2="528.90" stroke="#000" stroke-width="1.3" />
<text x="29.80" y="533.10" font-size="12.2" fill="#000" stroke="#000" stroke-width="0.22" text-anchor="end" >6</text>
<line x1="38.10" y1="500.90" x2="41.60" y2="500.90" stroke="#000" stroke-width="1.3" />
<text x="29.80" y="505.10" font-size="12.2" fill="#000" stroke="#000" stroke-width="0.22" text-anchor="end" >8</text>
<line x1="38.10" y1="472.90" x2="41.60" y2="472.90" stroke="#000" stroke-width="1.3" />
<text x="29.60" y="476.80" font-size="11.0" fill="#000" stroke="#000" stroke-width="0.22" text-anchor="end" >10</text>
<line x1="41.60" y1="612.90" x2="41.60" y2="616.90" stroke="#000" stroke-width="1.3" />
<text x="41.60" y="632.60" font-size="11.5" fill="#000" stroke="#000" stroke-width="0.22" text-anchor="middle" >-50</text>
<line x1="63.04" y1="612.90" x2="63.04" y2="616.90" stroke="#000" stroke-width="1.3" />
<text x="63.04" y="632.60" font-size="11.5" fill="#000" stroke="#000" stroke-width="0.22" text-anchor="middle" >-40</text>
<line x1="84.48" y1="612.90" x2="84.48" y2="616.90" stroke="#000" stroke-width="1.3" />
<text x="84.48" y="632.60" font-size="11.5" fill="#000" stroke="#000" stroke-width="0.22" text-anchor="middle" >-30</text>
<line x1="105.92" y1="612.90" x2="105.92" y2="616.90" stroke="#000" stroke-width="1.3" />
<text x="105.92" y="632.60" font-size="11.5" fill="#000" stroke="#000" stroke-width="0.22" text-anchor="middle" >-20</text>
<line x1="127.36" y1="612.90" x2="127.36" y2="616.90" stroke="#000" stroke-width="1.3" />
<text x="127.36" y="632.60" font-size="11.5" fill="#000" stroke="#000" stroke-width="0.22" text-anchor="middle" >-10</text>
<line x1="148.80" y1="612.90" x2="148.80" y2="616.90" stroke="#000" stroke-width="1.3" />
<text x="148.80" y="632.60" font-size="11.5" fill="#000" stroke="#000" stroke-width="0.22" text-anchor="middle" >0</text>
<text x="59.60" y="649.20" font-size="12.56" fill="#000" stroke="#000" stroke-width="0.22" text-anchor="start" >Time (min)</text>
<text x="46.70" y="478.00" font-size="11.2" fill="#dd8044" stroke="#dd8044" stroke-width="0.22" text-anchor="start" >Untreated n=15</text>
<text x="46.70" y="491.70" font-size="11.2" fill="#6bcc40" stroke="#6bcc40" stroke-width="0.22" text-anchor="start" >Taxol n=19</text>
<text transform="translate(13.00,546.20) rotate(-90)" x="0" y="0" font-size="11.68" fill="#000" stroke="#000" stroke-width="0.22" text-anchor="middle" >Tension (<tspan font-style="italic">F</tspan><tspan font-size="7.5" font-style="italic" dy="2">tension</tspan><tspan dy="-2">) (pN)</tspan></text>
<path d="M41.70,601.04V610.76M38.50,601.04h6.4M38.50,610.76h6.4M43.84,592.70V603.42M40.64,592.70h6.4M40.64,603.42h6.4M45.99,598.03V608.45M42.79,598.03h6.4M42.79,608.45h6.4M48.13,595.80V606.76M44.93,595.80h6.4M44.93,606.76h6.4M50.28,587.06V596.74M47.08,587.06h6.4M47.08,596.74h6.4M52.42,593.25V600.91M49.22,593.25h6.4M49.22,600.91h6.4M54.56,582.76V593.20M51.36,582.76h6.4M51.36,593.20h6.4M56.71,587.17V598.03M53.51,587.17h6.4M53.51,598.03h6.4M58.85,586.59V597.21M55.65,586.59h6.4M55.65,597.21h6.4M61.00,585.58V594.86M57.80,585.58h6.4M57.80,594.86h6.4M63.14,594.67V604.53M59.94,594.67h6.4M59.94,604.53h6.4M65.28,587.98V595.82M62.08,587.98h6.4M62.08,595.82h6.4M67.43,589.82V600.14M64.23,589.82h6.4M64.23,600.14h6.4M69.57,586.13V595.43M66.37,586.13h6.4M66.37,595.43h6.4M71.72,589.23V597.37M68.52,589.23h6.4M68.52,597.37h6.4M73.86,577.35V584.61M70.66,577.35h6.4M70.66,584.61h6.4M76.00,583.47V593.89M72.80,583.47h6.4M72.80,593.89h6.4M78.15,586.42V597.38M74.95,586.42h6.4M74.95,597.38h6.4M80.29,594.38V601.74M77.09,594.38h6.4M77.09,601.74h6.4M82.44,597.16V607.36M79.24,597.16h6.4M79.24,607.36h6.4M84.58,582.82V591.46M81.38,582.82h6.4M81.38,591.46h6.4M86.72,589.50V597.10M83.52,589.50h6.4M83.52,597.10h6.4M88.87,588.51V596.69M85.67,588.51h6.4M85.67,596.69h6.4M91.01,589.10V599.18M87.81,589.10h6.4M87.81,599.18h6.4M93.16,585.81V596.31M89.96,585.81h6.4M89.96,596.31h6.4M95.30,595.03V602.21M92.10,595.03h6.4M92.10,602.21h6.4M97.44,593.89V603.35M94.24,593.89h6.4M94.24,603.35h6.4M99.59,593.21V600.39M96.39,593.21h6.4M96.39,600.39h6.4M101.73,595.50V605.38M98.53,595.50h6.4M98.53,605.38h6.4M103.88,594.74V603.06M100.68,594.74h6.4M100.68,603.06h6.4M106.02,585.80V596.32M102.82,585.80h6.4M102.82,596.32h6.4M108.16,595.68V606.60M104.96,595.68h6.4M104.96,606.60h6.4M110.31,603.35V612.37M107.11,603.35h6.4M107.11,612.37h6.4M112.45,593.40V604.40M109.25,593.40h6.4M109.25,604.40h6.4M114.60,583.02V591.26M111.40,583.02h6.4M111.40,591.26h6.4M116.74,584.89V592.19M113.54,584.89h6.4M113.54,592.19h6.4M118.88,602.18V611.58M115.68,602.18h6.4M115.68,611.58h6.4M121.03,601.36V608.48M117.83,601.36h6.4M117.83,608.48h6.4M123.17,591.93V599.71M119.97,591.93h6.4M119.97,599.71h6.4M125.32,598.22V606.86M122.12,598.22h6.4M122.12,606.86h6.4M127.46,597.82V607.26M124.26,597.82h6.4M124.26,607.26h6.4M129.60,600.13V607.75M126.40,600.13h6.4M126.40,607.75h6.4M131.75,601.90V609.06M128.55,601.90h6.4M128.55,609.06h6.4M133.89,600.94V611.42M130.69,600.94h6.4M130.69,611.42h6.4M136.04,595.61V603.87M132.84,595.61h6.4M132.84,603.87h6.4M138.18,595.72V606.56M134.98,595.72h6.4M134.98,606.56h6.4M140.32,594.45V605.03M137.12,594.45h6.4M137.12,605.03h6.4M142.47,602.62V611.14M139.27,602.62h6.4M139.27,611.14h6.4M144.61,592.80V601.64M141.41,592.80h6.4M141.41,601.64h6.4M146.76,589.88V598.96M143.56,589.88h6.4M143.56,598.96h6.4" stroke="#84f23a" stroke-width="1.25" fill="none"/>
<polyline points="41.70,605.90 43.84,598.06 45.99,603.24 48.13,601.28 50.28,591.90 52.42,597.08 54.56,587.98 56.71,592.60 58.85,591.90 61.00,590.22 63.14,599.60 65.28,591.90 67.43,594.98 69.57,590.78 71.72,593.30 73.86,580.98 76.00,588.68 78.15,591.90 80.29,598.06 82.44,602.26 84.58,587.14 86.72,593.30 88.87,592.60 91.01,594.14 93.16,591.06 95.30,598.62 97.44,598.62 99.59,596.80 101.73,600.44 103.88,598.90 106.02,591.06 108.16,601.14 110.31,607.86 112.45,598.90 114.60,587.14 116.74,588.54 118.88,606.88 121.03,604.92 123.17,595.82 125.32,602.54 127.46,602.54 129.60,603.94 131.75,605.48 133.89,606.18 136.04,599.74 138.18,601.14 140.32,599.74 142.47,606.88 144.61,597.22 146.76,594.42" fill="none" stroke="#84f23a" stroke-width="1.4"/>
<circle cx="41.70" cy="605.90" r="2.0" fill="#84f23a"/>
<circle cx="43.84" cy="598.06" r="2.0" fill="#84f23a"/>
<circle cx="45.99" cy="603.24" r="2.0" fill="#84f23a"/>
<circle cx="48.13" cy="601.28" r="2.0" fill="#84f23a"/>
<circle cx="50.28" cy="591.90" r="2.0" fill="#84f23a"/>
<circle cx="52.42" cy="597.08" r="2.0" fill="#84f23a"/>
<circle cx="54.56" cy="587.98" r="2.0" fill="#84f23a"/>
<circle cx="56.71" cy="592.60" r="2.0" fill="#84f23a"/>
<circle cx="58.85" cy="591.90" r="2.0" fill="#84f23a"/>
<circle cx="61.00" cy="590.22" r="2.0" fill="#84f23a"/>
<circle cx="63.14" cy="599.60" r="2.0" fill="#84f23a"/>
<circle cx="65.28" cy="591.90" r="2.0" fill="#84f23a"/>
<circle cx="67.43" cy="594.98" r="2.0" fill="#84f23a"/>
<circle cx="69.57" cy="590.78" r="2.0" fill="#84f23a"/>
<circle cx="71.72" cy="593.30" r="2.0" fill="#84f23a"/>
<circle cx="73.86" cy="580.98" r="2.0" fill="#84f23a"/>
<circle cx="76.00" cy="588.68" r="2.0" fill="#84f23a"/>
<circle cx="78.15" cy="591.90" r="2.0" fill="#84f23a"/>
<circle cx="80.29" cy="598.06" r="2.0" fill="#84f23a"/>
<circle cx="82.44" cy="602.26" r="2.0" fill="#84f23a"/>
<circle cx="84.58" cy="587.14" r="2.0" fill="#84f23a"/>
<circle cx="86.72" cy="593.30" r="2.0" fill="#84f23a"/>
<circle cx="88.87" cy="592.60" r="2.0" fill="#84f23a"/>
<circle cx="91.01" cy="594.14" r="2.0" fill="#84f23a"/>
<circle cx="93.16" cy="591.06" r="2.0" fill="#84f23a"/>
<circle cx="95.30" cy="598.62" r="2.0" fill="#84f23a"/>
<circle cx="97.44" cy="598.62" r="2.0" fill="#84f23a"/>
<circle cx="99.59" cy="596.80" r="2.0" fill="#84f23a"/>
<circle cx="101.73" cy="600.44" r="2.0" fill="#84f23a"/>
<circle cx="103.88" cy="598.90" r="2.0" fill="#84f23a"/>
<circle cx="106.02" cy="591.06" r="2.0" fill="#84f23a"/>
<circle cx="108.16" cy="601.14" r="2.0" fill="#84f23a"/>
<circle cx="110.31" cy="607.86" r="2.0" fill="#84f23a"/>
<circle cx="112.45" cy="598.90" r="2.0" fill="#84f23a"/>
<circle cx="114.60" cy="587.14" r="2.0" fill="#84f23a"/>
<circle cx="116.74" cy="588.54" r="2.0" fill="#84f23a"/>
<circle cx="118.88" cy="606.88" r="2.0" fill="#84f23a"/>
<circle cx="121.03" cy="604.92" r="2.0" fill="#84f23a"/>
<circle cx="123.17" cy="595.82" r="2.0" fill="#84f23a"/>
<circle cx="125.32" cy="602.54" r="2.0" fill="#84f23a"/>
<circle cx="127.46" cy="602.54" r="2.0" fill="#84f23a"/>
<circle cx="129.60" cy="603.94" r="2.0" fill="#84f23a"/>
<circle cx="131.75" cy="605.48" r="2.0" fill="#84f23a"/>
<circle cx="133.89" cy="606.18" r="2.0" fill="#84f23a"/>
<circle cx="136.04" cy="599.74" r="2.0" fill="#84f23a"/>
<circle cx="138.18" cy="601.14" r="2.0" fill="#84f23a"/>
<circle cx="140.32" cy="599.74" r="2.0" fill="#84f23a"/>
<circle cx="142.47" cy="606.88" r="2.0" fill="#84f23a"/>
<circle cx="144.61" cy="597.22" r="2.0" fill="#84f23a"/>
<circle cx="146.76" cy="594.42" r="2.0" fill="#84f23a"/>
<path d="M41.70,563.42V578.38M38.50,563.42h6.4M38.50,578.38h6.4M43.84,556.37V572.55M40.64,556.37h6.4M40.64,572.55h6.4M45.99,573.94V589.42M42.79,573.94h6.4M42.79,589.42h6.4M48.13,565.91V582.33M44.93,565.91h6.4M44.93,582.33h6.4M50.28,549.63V566.13M47.08,549.63h6.4M47.08,566.13h6.4M52.42,536.19V550.45M49.22,536.19h6.4M49.22,550.45h6.4M54.56,536.71V550.77M51.36,536.71h6.4M51.36,550.77h6.4M56.71,549.49V566.83M53.51,549.49h6.4M53.51,566.83h6.4M58.85,553.02V568.06M55.65,553.02h6.4M55.65,568.06h6.4M61.00,520.17V535.11M57.80,520.17h6.4M57.80,535.11h6.4M63.14,533.91V551.89M59.94,533.91h6.4M59.94,551.89h6.4M65.28,520.54V536.42M62.08,520.54h6.4M62.08,536.42h6.4M67.43,558.59V575.93M64.23,558.59h6.4M64.23,575.93h6.4M69.57,528.65V544.55M66.37,528.65h6.4M66.37,544.55h6.4M71.72,554.50V571.06M68.52,554.50h6.4M68.52,571.06h6.4M73.86,526.22V540.82M70.66,526.22h6.4M70.66,540.82h6.4M76.00,542.89V559.43M72.80,542.89h6.4M72.80,559.43h6.4M78.15,532.20V549.68M74.95,532.20h6.4M74.95,549.68h6.4M80.29,540.45V556.55M77.09,540.45h6.4M77.09,556.55h6.4M82.44,544.22V561.18M79.24,544.22h6.4M79.24,561.18h6.4M84.58,544.36V561.04M81.38,544.36h6.4M81.38,561.04h6.4M86.72,549.21V563.47M83.52,549.21h6.4M83.52,563.47h6.4M88.87,539.00V556.04M85.67,539.00h6.4M85.67,556.04h6.4M91.01,546.48V562.84M87.81,546.48h6.4M87.81,562.84h6.4M93.16,542.02V557.22M89.96,542.02h6.4M89.96,557.22h6.4M95.30,528.00V542.12M92.10,528.00h6.4M92.10,542.12h6.4M97.44,555.73V573.19M94.24,555.73h6.4M94.24,573.19h6.4M99.59,544.75V560.65M96.39,544.75h6.4M96.39,560.65h6.4M101.73,547.76V564.64M98.53,547.76h6.4M98.53,564.64h6.4M103.88,531.34V548.86M100.68,531.34h6.4M100.68,548.86h6.4M106.02,511.79V528.65M102.82,511.79h6.4M102.82,528.65h6.4M108.16,531.96V549.64M104.96,531.96h6.4M104.96,549.64h6.4M110.31,524.33V539.91M107.11,524.33h6.4M107.11,539.91h6.4M112.45,512.74V529.94M109.25,512.74h6.4M109.25,529.94h6.4M114.60,531.09V546.87M111.40,531.09h6.4M111.40,546.87h6.4M116.74,517.09V534.83M113.54,517.09h6.4M113.54,534.83h6.4M118.88,527.70V545.22M115.68,527.70h6.4M115.68,545.22h6.4M121.03,539.21V553.59M117.83,539.21h6.4M117.83,553.59h6.4M123.17,542.63V557.17M119.97,542.63h6.4M119.97,557.17h6.4M125.32,554.51V569.37M122.12,554.51h6.4M122.12,569.37h6.4M127.46,541.81V559.67M124.26,541.81h6.4M124.26,559.67h6.4M129.60,531.39V547.13M126.40,531.39h6.4M126.40,547.13h6.4M131.75,551.59V568.09M128.55,551.59h6.4M128.55,568.09h6.4M133.89,532.64V547.84M130.69,532.64h6.4M130.69,547.84h6.4M136.04,555.05V571.07M132.84,555.05h6.4M132.84,571.07h6.4M138.18,548.15V563.69M134.98,548.15h6.4M134.98,563.69h6.4M140.32,541.64V557.04M137.12,541.64h6.4M137.12,557.04h6.4M142.47,551.25V567.59M139.27,551.25h6.4M139.27,567.59h6.4M144.61,559.79V576.13M141.41,559.79h6.4M141.41,576.13h6.4M146.76,558.59V576.21M143.56,558.59h6.4M143.56,576.21h6.4" stroke="#d8752c" stroke-width="1.25" fill="none"/>
<polyline points="41.70,570.90 43.84,564.46 45.99,581.68 48.13,574.12 50.28,557.88 52.42,543.32 54.56,543.74 56.71,558.16 58.85,560.54 61.00,527.64 63.14,542.90 65.28,528.48 67.43,567.26 69.57,536.60 71.72,562.78 73.86,533.52 76.00,551.16 78.15,540.94 80.29,548.50 82.44,552.70 84.58,552.70 86.72,556.34 88.87,547.52 91.01,554.66 93.16,549.62 95.30,535.06 97.44,564.46 99.59,552.70 101.73,556.20 103.88,540.10 106.02,520.22 108.16,540.80 110.31,532.12 112.45,521.34 114.60,538.98 116.74,525.96 118.88,536.46 121.03,546.40 123.17,549.90 125.32,561.94 127.46,550.74 129.60,539.26 131.75,559.84 133.89,540.24 136.04,563.06 138.18,555.92 140.32,549.34 142.47,559.42 144.61,567.96 146.76,567.40" fill="none" stroke="#d8752c" stroke-width="1.4"/>
<circle cx="41.70" cy="570.90" r="2.0" fill="#d8752c"/>
<circle cx="43.84" cy="564.46" r="2.0" fill="#d8752c"/>
<circle cx="45.99" cy="581.68" r="2.0" fill="#d8752c"/>
<circle cx="48.13" cy="574.12" r="2.0" fill="#d8752c"/>
<circle cx="50.28" cy="557.88" r="2.0" fill="#d8752c"/>
<circle cx="52.42" cy="543.32" r="2.0" fill="#d8752c"/>
<circle cx="54.56" cy="543.74" r="2.0" fill="#d8752c"/>
<circle cx="56.71" cy="558.16" r="2.0" fill="#d8752c"/>
<circle cx="58.85" cy="560.54" r="2.0" fill="#d8752c"/>
<circle cx="61.00" cy="527.64" r="2.0" fill="#d8752c"/>
<circle cx="63.14" cy="542.90" r="2.0" fill="#d8752c"/>
<circle cx="65.28" cy="528.48" r="2.0" fill="#d8752c"/>
<circle cx="67.43" cy="567.26" r="2.0" fill="#d8752c"/>
<circle cx="69.57" cy="536.60" r="2.0" fill="#d8752c"/>
<circle cx="71.72" cy="562.78" r="2.0" fill="#d8752c"/>
<circle cx="73.86" cy="533.52" r="2.0" fill="#d8752c"/>
<circle cx="76.00" cy="551.16" r="2.0" fill="#d8752c"/>
<circle cx="78.15" cy="540.94" r="2.0" fill="#d8752c"/>
<circle cx="80.29" cy="548.50" r="2.0" fill="#d8752c"/>
<circle cx="82.44" cy="552.70" r="2.0" fill="#d8752c"/>
<circle cx="84.58" cy="552.70" r="2.0" fill="#d8752c"/>
<circle cx="86.72" cy="556.34" r="2.0" fill="#d8752c"/>
<circle cx="88.87" cy="547.52" r="2.0" fill="#d8752c"/>
<circle cx="91.01" cy="554.66" r="2.0" fill="#d8752c"/>
<circle cx="93.16" cy="549.62" r="2.0" fill="#d8752c"/>
<circle cx="95.30" cy="535.06" r="2.0" fill="#d8752c"/>
<circle cx="97.44" cy="564.46" r="2.0" fill="#d8752c"/>
<circle cx="99.59" cy="552.70" r="2.0" fill="#d8752c"/>
<circle cx="101.73" cy="556.20" r="2.0" fill="#d8752c"/>
<circle cx="103.88" cy="540.10" r="2.0" fill="#d8752c"/>
<circle cx="106.02" cy="520.22" r="2.0" fill="#d8752c"/>
<circle cx="108.16" cy="540.80" r="2.0" fill="#d8752c"/>
<circle cx="110.31" cy="532.12" r="2.0" fill="#d8752c"/>
<circle cx="112.45" cy="521.34" r="2.0" fill="#d8752c"/>
<circle cx="114.60" cy="538.98" r="2.0" fill="#d8752c"/>
<circle cx="116.74" cy="525.96" r="2.0" fill="#d8752c"/>
<circle cx="118.88" cy="536.46" r="2.0" fill="#d8752c"/>
<circle cx="121.03" cy="546.40" r="2.0" fill="#d8752c"/>
<circle cx="123.17" cy="549.90" r="2.0" fill="#d8752c"/>
<circle cx="125.32" cy="561.94" r="2.0" fill="#d8752c"/>
<circle cx="127.46" cy="550.74" r="2.0" fill="#d8752c"/>
<circle cx="129.60" cy="539.26" r="2.0" fill="#d8752c"/>
<circle cx="131.75" cy="559.84" r="2.0" fill="#d8752c"/>
<circle cx="133.89" cy="540.24" r="2.0" fill="#d8752c"/>
<circle cx="136.04" cy="563.06" r="2.0" fill="#d8752c"/>
<circle cx="138.18" cy="555.92" r="2.0" fill="#d8752c"/>
<circle cx="140.32" cy="549.34" r="2.0" fill="#d8752c"/>
<circle cx="142.47" cy="559.42" r="2.0" fill="#d8752c"/>
<circle cx="144.61" cy="567.96" r="2.0" fill="#d8752c"/>
<circle cx="146.76" cy="567.40" r="2.0" fill="#d8752c"/>
<line x1="195.40" y1="474.50" x2="195.40" y2="612.80" stroke="#a0a0a0" stroke-width="1.1" />
<line x1="195.40" y1="612.90" x2="355.60" y2="612.90" stroke="#c2c2c2" stroke-width="2.0" />
<line x1="193.20" y1="612.80" x2="195.40" y2="612.80" stroke="#555" stroke-width="1.0" />
<text x="190.20" y="616.80" font-size="12" fill="#000" stroke="#000" stroke-width="0.22" text-anchor="end" >0</text>
<line x1="193.20" y1="578.40" x2="195.40" y2="578.40" stroke="#555" stroke-width="1.0" />
<text x="190.20" y="582.40" font-size="12" fill="#000" stroke="#000" stroke-width="0.22" text-anchor="end" >2</text>
<line x1="193.20" y1="544.00" x2="195.40" y2="544.00" stroke="#555" stroke-width="1.0" />
<text x="190.20" y="548.00" font-size="12" fill="#000" stroke="#000" stroke-width="0.22" text-anchor="end" >4</text>
<line x1="193.20" y1="509.60" x2="195.40" y2="509.60" stroke="#555" stroke-width="1.0" />
<text x="190.20" y="513.60" font-size="12" fill="#000" stroke="#000" stroke-width="0.22" text-anchor="end" >6</text>
<line x1="193.20" y1="475.20" x2="195.40" y2="475.20" stroke="#555" stroke-width="1.0" />
<text x="190.20" y="479.20" font-size="12" fill="#000" stroke="#000" stroke-width="0.22" text-anchor="end" >8</text>
<line x1="195.40" y1="612.20" x2="195.40" y2="614.00" stroke="#555" stroke-width="1.2" />
<text x="195.40" y="628.50" font-size="11.5" fill="#000" stroke="#000" stroke-width="0.22" text-anchor="middle" >-50</text>
<line x1="227.40" y1="612.20" x2="227.40" y2="614.00" stroke="#555" stroke-width="1.2" />
<text x="227.40" y="628.50" font-size="11.5" fill="#000" stroke="#000" stroke-width="0.22" text-anchor="middle" >-40</text>
<line x1="259.40" y1="612.20" x2="259.40" y2="614.00" stroke="#555" stroke-width="1.2" />
<text x="259.40" y="628.50" font-size="11.5" fill="#000" stroke="#000" stroke-width="0.22" text-anchor="middle" >-30</text>
<line x1="291.40" y1="612.20" x2="291.40" y2="614.00" stroke="#555" stroke-width="1.2" />
<text x="291.40" y="628.50" font-size="11.5" fill="#000" stroke="#000" stroke-width="0.22" text-anchor="middle" >-20</text>
<line x1="323.40" y1="612.20" x2="323.40" y2="614.00" stroke="#555" stroke-width="1.2" />
<text x="323.40" y="628.50" font-size="11.5" fill="#000" stroke="#000" stroke-width="0.22" text-anchor="middle" >-10</text>
<line x1="355.40" y1="612.20" x2="355.40" y2="614.00" stroke="#555" stroke-width="1.2" />
<text x="355.40" y="628.50" font-size="11.5" fill="#000" stroke="#000" stroke-width="0.22" text-anchor="middle" >0</text>
<text x="245.60" y="649.80" font-size="12.6" fill="#000" stroke="#000" stroke-width="0.22" text-anchor="start" >Time (min)</text>
<text x="203.50" y="478.50" font-size="11.42" fill="#dd8044" stroke="#dd8044" stroke-width="0.22" text-anchor="start" >Untreated n=15</text>
<text x="203.50" y="491.50" font-size="11.42" fill="#6bcc40" stroke="#6bcc40" stroke-width="0.22" text-anchor="start" >Taxol n=19</text>
<text transform="translate(173.00,550.20) rotate(-90)" x="0" y="0" font-size="11.46" fill="#000" stroke="#000" stroke-width="0.22" text-anchor="middle" >Tension (<tspan font-style="italic">F</tspan><tspan font-size="7.5" font-style="italic" dy="2">tension</tspan><tspan dy="-2">) (pN)</tspan></text>
<path d="M195.40,539.20V561.20M198.60,539.05V553.29M201.80,538.91V574.44M205.00,538.76V565.16M208.20,538.61V545.20M211.40,538.47V527.32M214.60,538.32V527.83M217.80,538.17V545.55M221.00,538.02V548.47M224.20,537.88V508.05M227.40,537.73V526.80M230.60,537.58V509.08M233.80,537.44V556.73M237.00,537.29V519.06M240.20,537.14V551.22M243.40,537.00V515.28M246.60,536.85V536.95M249.80,536.70V524.39M253.00,536.56V533.68M256.20,536.41V538.84M259.40,536.26V538.84M262.60,536.11V543.31M265.80,535.97V532.48M269.00,535.82V541.25M272.20,535.67V535.06M275.40,535.53V517.17M278.60,535.38V553.29M281.80,535.23V538.84M285.00,535.09V543.14M288.20,534.94V523.36M291.40,534.79V498.94M294.60,534.64V524.22M297.80,534.50V513.56M301.00,534.35V500.31M304.20,534.20V521.98M307.40,534.06V505.99M310.60,533.91V518.89M313.80,533.76V531.10M317.00,533.62V535.40M320.20,533.47V550.19M323.40,533.32V536.43M326.60,533.18V522.33M329.80,533.03V547.61M333.00,532.88V523.53M336.20,532.73V551.57M339.40,532.59V542.80M342.60,532.44V534.71M345.80,532.29V547.10M349.00,532.15V557.59M352.20,532.00V556.90" stroke="#e58a45" stroke-width="0.9" fill="none" opacity="0.9"/>
<circle cx="195.40" cy="561.20" r="2.5" fill="#fff" fill-opacity="0" stroke="#e58a45" stroke-width="1"/><circle cx="198.60" cy="553.29" r="2.5" fill="#fff" fill-opacity="0" stroke="#e58a45" stroke-width="1"/><circle cx="201.80" cy="574.44" r="2.5" fill="#fff" fill-opacity="0" stroke="#e58a45" stroke-width="1"/><circle cx="205.00" cy="565.16" r="2.5" fill="#fff" fill-opacity="0" stroke="#e58a45" stroke-width="1"/><circle cx="208.20" cy="545.20" r="2.5" fill="#fff" fill-opacity="0" stroke="#e58a45" stroke-width="1"/><circle cx="211.40" cy="527.32" r="2.5" fill="#fff" fill-opacity="0" stroke="#e58a45" stroke-width="1"/><circle cx="214.60" cy="527.83" r="2.5" fill="#fff" fill-opacity="0" stroke="#e58a45" stroke-width="1"/><circle cx="217.80" cy="545.55" r="2.5" fill="#fff" fill-opacity="0" stroke="#e58a45" stroke-width="1"/><circle cx="221.00" cy="548.47" r="2.5" fill="#fff" fill-opacity="0" stroke="#e58a45" stroke-width="1"/><circle cx="224.20" cy="508.05" r="2.5" fill="#fff" fill-opacity="0" stroke="#e58a45" stroke-width="1"/><circle cx="227.40" cy="526.80" r="2.5" fill="#fff" fill-opacity="0" stroke="#e58a45" stroke-width="1"/><circle cx="230.60" cy="509.08" r="2.5" fill="#fff" fill-opacity="0" stroke="#e58a45" stroke-width="1"/><circle cx="233.80" cy="556.73" r="2.5" fill="#fff" fill-opacity="0" stroke="#e58a45" stroke-width="1"/><circle cx="237.00" cy="519.06" r="2.5" fill="#fff" fill-opacity="0" stroke="#e58a45" stroke-width="1"/><circle cx="240.20" cy="551.22" r="2.5" fill="#fff" fill-opacity="0" stroke="#e58a45" stroke-width="1"/><circle cx="243.40" cy="515.28" r="2.5" fill="#fff" fill-opacity="0" stroke="#e58a45" stroke-width="1"/><circle cx="246.60" cy="536.95" r="2.5" fill="#fff" fill-opacity="0" stroke="#e58a45" stroke-width="1"/><circle cx="249.80" cy="524.39" r="2.5" fill="#fff" fill-opacity="0" stroke="#e58a45" stroke-width="1"/><circle cx="253.00" cy="533.68" r="2.5" fill="#fff" fill-opacity="0" stroke="#e58a45" stroke-width="1"/><circle cx="256.20" cy="538.84" r="2.5" fill="#fff" fill-opacity="0" stroke="#e58a45" stroke-width="1"/><circle cx="259.40" cy="538.84" r="2.5" fill="#fff" fill-opacity="0" stroke="#e58a45" stroke-width="1"/><circle cx="262.60" cy="543.31" r="2.5" fill="#fff" fill-opacity="0" stroke="#e58a45" stroke-width="1"/><circle cx="265.80" cy="532.48" r="2.5" fill="#fff" fill-opacity="0" stroke="#e58a45" stroke-width="1"/><circle cx="269.00" cy="541.25" r="2.5" fill="#fff" fill-opacity="0" stroke="#e58a45" stroke-width="1"/><circle cx="272.20" cy="535.06" r="2.5" fill="#fff" fill-opacity="0" stroke="#e58a45" stroke-width="1"/><circle cx="275.40" cy="517.17" r="2.5" fill="#fff" fill-opacity="0" stroke="#e58a45" stroke-width="1"/><circle cx="278.60" cy="553.29" r="2.5" fill="#fff" fill-opacity="0" stroke="#e58a45" stroke-width="1"/><circle cx="281.80" cy="538.84" r="2.5" fill="#fff" fill-opacity="0" stroke="#e58a45" stroke-width="1"/><circle cx="285.00" cy="543.14" r="2.5" fill="#fff" fill-opacity="0" stroke="#e58a45" stroke-width="1"/><circle cx="288.20" cy="523.36" r="2.5" fill="#fff" fill-opacity="0" stroke="#e58a45" stroke-width="1"/><circle cx="291.40" cy="498.94" r="2.5" fill="#fff" fill-opacity="0" stroke="#e58a45" stroke-width="1"/><circle cx="294.60" cy="524.22" r="2.5" fill="#fff" fill-opacity="0" stroke="#e58a45" stroke-width="1"/><circle cx="297.80" cy="513.56" r="2.5" fill="#fff" fill-opacity="0" stroke="#e58a45" stroke-width="1"/><circle cx="301.00" cy="500.31" r="2.5" fill="#fff" fill-opacity="0" stroke="#e58a45" stroke-width="1"/><circle cx="304.20" cy="521.98" r="2.5" fill="#fff" fill-opacity="0" stroke="#e58a45" stroke-width="1"/><circle cx="307.40" cy="505.99" r="2.5" fill="#fff" fill-opacity="0" stroke="#e58a45" stroke-width="1"/><circle cx="310.60" cy="518.89" r="2.5" fill="#fff" fill-opacity="0" stroke="#e58a45" stroke-width="1"/><circle cx="313.80" cy="531.10" r="2.5" fill="#fff" fill-opacity="0" stroke="#e58a45" stroke-width="1"/><circle cx="317.00" cy="535.40" r="2.5" fill="#fff" fill-opacity="0" stroke="#e58a45" stroke-width="1"/><circle cx="320.20" cy="550.19" r="2.5" fill="#fff" fill-opacity="0" stroke="#e58a45" stroke-width="1"/><circle cx="323.40" cy="536.43" r="2.5" fill="#fff" fill-opacity="0" stroke="#e58a45" stroke-width="1"/><circle cx="326.60" cy="522.33" r="2.5" fill="#fff" fill-opacity="0" stroke="#e58a45" stroke-width="1"/><circle cx="329.80" cy="547.61" r="2.5" fill="#fff" fill-opacity="0" stroke="#e58a45" stroke-width="1"/><circle cx="333.00" cy="523.53" r="2.5" fill="#fff" fill-opacity="0" stroke="#e58a45" stroke-width="1"/><circle cx="336.20" cy="551.57" r="2.5" fill="#fff" fill-opacity="0" stroke="#e58a45" stroke-width="1"/><circle cx="339.40" cy="542.80" r="2.5" fill="#fff" fill-opacity="0" stroke="#e58a45" stroke-width="1"/><circle cx="342.60" cy="534.71" r="2.5" fill="#fff" fill-opacity="0" stroke="#e58a45" stroke-width="1"/><circle cx="345.80" cy="547.10" r="2.5" fill="#fff" fill-opacity="0" stroke="#e58a45" stroke-width="1"/><circle cx="349.00" cy="557.59" r="2.5" fill="#fff" fill-opacity="0" stroke="#e58a45" stroke-width="1"/><circle cx="352.20" cy="556.90" r="2.5" fill="#fff" fill-opacity="0" stroke="#e58a45" stroke-width="1"/>
<line x1="195.40" y1="539.20" x2="352.20" y2="532.00" stroke="#e58a45" stroke-width="2.4"/>
<path d="M195.40,588.50V604.20M198.60,588.68V594.57M201.80,588.87V600.93M205.00,589.05V598.52M208.20,589.23V587.00M211.40,589.42V593.36M214.60,589.60V582.18M217.80,589.79V587.86M221.00,589.97V587.00M224.20,590.15V584.94M227.40,590.34V596.46M230.60,590.52V587.00M233.80,590.70V590.78M237.00,590.89V585.62M240.20,591.07V588.72M243.40,591.26V573.58M246.60,591.44V583.04M249.80,591.62V587.00M253.00,591.81V594.57M256.20,591.99V599.73M259.40,592.17V581.15M262.60,592.36V588.72M265.80,592.54V587.86M269.00,592.72V589.75M272.20,592.91V585.97M275.40,593.09V595.26M278.60,593.28V595.26M281.80,593.46V593.02M285.00,593.64V597.49M288.20,593.83V595.60M291.40,594.01V585.97M294.60,594.19V598.35M297.80,594.38V606.61M301.00,594.56V595.60M304.20,594.74V581.15M307.40,594.93V582.87M310.60,595.11V605.40M313.80,595.30V603.00M317.00,595.48V591.82M320.20,595.66V600.07M323.40,595.85V600.07M326.60,596.03V601.79M329.80,596.21V603.68M333.00,596.40V604.54M336.20,596.58V596.63M339.40,596.77V598.35M342.60,596.95V596.63M345.80,597.13V605.40M349.00,597.32V593.54M352.20,597.50V590.10" stroke="#8cf048" stroke-width="0.9" fill="none" opacity="0.9"/>
<circle cx="195.40" cy="604.20" r="2.5" fill="#fff" fill-opacity="0" stroke="#8cf048" stroke-width="1"/><circle cx="198.60" cy="594.57" r="2.5" fill="#fff" fill-opacity="0" stroke="#8cf048" stroke-width="1"/><circle cx="201.80" cy="600.93" r="2.5" fill="#fff" fill-opacity="0" stroke="#8cf048" stroke-width="1"/><circle cx="205.00" cy="598.52" r="2.5" fill="#fff" fill-opacity="0" stroke="#8cf048" stroke-width="1"/><circle cx="208.20" cy="587.00" r="2.5" fill="#fff" fill-opacity="0" stroke="#8cf048" stroke-width="1"/><circle cx="211.40" cy="593.36" r="2.5" fill="#fff" fill-opacity="0" stroke="#8cf048" stroke-width="1"/><circle cx="214.60" cy="582.18" r="2.5" fill="#fff" fill-opacity="0" stroke="#8cf048" stroke-width="1"/><circle cx="217.80" cy="587.86" r="2.5" fill="#fff" fill-opacity="0" stroke="#8cf048" stroke-width="1"/><circle cx="221.00" cy="587.00" r="2.5" fill="#fff" fill-opacity="0" stroke="#8cf048" stroke-width="1"/><circle cx="224.20" cy="584.94" r="2.5" fill="#fff" fill-opacity="0" stroke="#8cf048" stroke-width="1"/><circle cx="227.40" cy="596.46" r="2.5" fill="#fff" fill-opacity="0" stroke="#8cf048" stroke-width="1"/><circle cx="230.60" cy="587.00" r="2.5" fill="#fff" fill-opacity="0" stroke="#8cf048" stroke-width="1"/><circle cx="233.80" cy="590.78" r="2.5" fill="#fff" fill-opacity="0" stroke="#8cf048" stroke-width="1"/><circle cx="237.00" cy="585.62" r="2.5" fill="#fff" fill-opacity="0" stroke="#8cf048" stroke-width="1"/><circle cx="240.20" cy="588.72" r="2.5" fill="#fff" fill-opacity="0" stroke="#8cf048" stroke-width="1"/><circle cx="243.40" cy="573.58" r="2.5" fill="#fff" fill-opacity="0" stroke="#8cf048" stroke-width="1"/><circle cx="246.60" cy="583.04" r="2.5" fill="#fff" fill-opacity="0" stroke="#8cf048" stroke-width="1"/><circle cx="249.80" cy="587.00" r="2.5" fill="#fff" fill-opacity="0" stroke="#8cf048" stroke-width="1"/><circle cx="253.00" cy="594.57" r="2.5" fill="#fff" fill-opacity="0" stroke="#8cf048" stroke-width="1"/><circle cx="256.20" cy="599.73" r="2.5" fill="#fff" fill-opacity="0" stroke="#8cf048" stroke-width="1"/><circle cx="259.40" cy="581.15" r="2.5" fill="#fff" fill-opacity="0" stroke="#8cf048" stroke-width="1"/><circle cx="262.60" cy="588.72" r="2.5" fill="#fff" fill-opacity="0" stroke="#8cf048" stroke-width="1"/><circle cx="265.80" cy="587.86" r="2.5" fill="#fff" fill-opacity="0" stroke="#8cf048" stroke-width="1"/><circle cx="269.00" cy="589.75" r="2.5" fill="#fff" fill-opacity="0" stroke="#8cf048" stroke-width="1"/><circle cx="272.20" cy="585.97" r="2.5" fill="#fff" fill-opacity="0" stroke="#8cf048" stroke-width="1"/><circle cx="275.40" cy="595.26" r="2.5" fill="#fff" fill-opacity="0" stroke="#8cf048" stroke-width="1"/><circle cx="278.60" cy="595.26" r="2.5" fill="#fff" fill-opacity="0" stroke="#8cf048" stroke-width="1"/><circle cx="281.80" cy="593.02" r="2.5" fill="#fff" fill-opacity="0" stroke="#8cf048" stroke-width="1"/><circle cx="285.00" cy="597.49" r="2.5" fill="#fff" fill-opacity="0" stroke="#8cf048" stroke-width="1"/><circle cx="288.20" cy="595.60" r="2.5" fill="#fff" fill-opacity="0" stroke="#8cf048" stroke-width="1"/><circle cx="291.40" cy="585.97" r="2.5" fill="#fff" fill-opacity="0" stroke="#8cf048" stroke-width="1"/><circle cx="294.60" cy="598.35" r="2.5" fill="#fff" fill-opacity="0" stroke="#8cf048" stroke-width="1"/><circle cx="297.80" cy="606.61" r="2.5" fill="#fff" fill-opacity="0" stroke="#8cf048" stroke-width="1"/><circle cx="301.00" cy="595.60" r="2.5" fill="#fff" fill-opacity="0" stroke="#8cf048" stroke-width="1"/><circle cx="304.20" cy="581.15" r="2.5" fill="#fff" fill-opacity="0" stroke="#8cf048" stroke-width="1"/><circle cx="307.40" cy="582.87" r="2.5" fill="#fff" fill-opacity="0" stroke="#8cf048" stroke-width="1"/><circle cx="310.60" cy="605.40" r="2.5" fill="#fff" fill-opacity="0" stroke="#8cf048" stroke-width="1"/><circle cx="313.80" cy="603.00" r="2.5" fill="#fff" fill-opacity="0" stroke="#8cf048" stroke-width="1"/><circle cx="317.00" cy="591.82" r="2.5" fill="#fff" fill-opacity="0" stroke="#8cf048" stroke-width="1"/><circle cx="320.20" cy="600.07" r="2.5" fill="#fff" fill-opacity="0" stroke="#8cf048" stroke-width="1"/><circle cx="323.40" cy="600.07" r="2.5" fill="#fff" fill-opacity="0" stroke="#8cf048" stroke-width="1"/><circle cx="326.60" cy="601.79" r="2.5" fill="#fff" fill-opacity="0" stroke="#8cf048" stroke-width="1"/><circle cx="329.80" cy="603.68" r="2.5" fill="#fff" fill-opacity="0" stroke="#8cf048" stroke-width="1"/><circle cx="333.00" cy="604.54" r="2.5" fill="#fff" fill-opacity="0" stroke="#8cf048" stroke-width="1"/><circle cx="336.20" cy="596.63" r="2.5" fill="#fff" fill-opacity="0" stroke="#8cf048" stroke-width="1"/><circle cx="339.40" cy="598.35" r="2.5" fill="#fff" fill-opacity="0" stroke="#8cf048" stroke-width="1"/><circle cx="342.60" cy="596.63" r="2.5" fill="#fff" fill-opacity="0" stroke="#8cf048" stroke-width="1"/><circle cx="345.80" cy="605.40" r="2.5" fill="#fff" fill-opacity="0" stroke="#8cf048" stroke-width="1"/><circle cx="349.00" cy="593.54" r="2.5" fill="#fff" fill-opacity="0" stroke="#8cf048" stroke-width="1"/><circle cx="352.20" cy="590.10" r="2.5" fill="#fff" fill-opacity="0" stroke="#8cf048" stroke-width="1"/>
<line x1="195.40" y1="588.50" x2="352.20" y2="597.50" stroke="#8cf048" stroke-width="2.4"/>
<line x1="410.80" y1="482.50" x2="410.80" y2="617.30" stroke="#000" stroke-width="1.3" />
<line x1="410.20" y1="613.30" x2="516.50" y2="613.30" stroke="#000" stroke-width="1.3" />
<line x1="407.30" y1="613.30" x2="410.80" y2="613.30" stroke="#000" stroke-width="1.3" />
<text x="400.70" y="617.30" font-size="11.5" fill="#000" stroke="#000" stroke-width="0.22" text-anchor="end" >0</text>
<line x1="407.30" y1="587.36" x2="410.80" y2="587.36" stroke="#000" stroke-width="1.3" />
<text x="400.70" y="591.36" font-size="11.5" fill="#000" stroke="#000" stroke-width="0.22" text-anchor="end" >10</text>
<line x1="407.30" y1="561.42" x2="410.80" y2="561.42" stroke="#000" stroke-width="1.3" />
<text x="400.70" y="565.42" font-size="11.5" fill="#000" stroke="#000" stroke-width="0.22" text-anchor="end" >20</text>
<line x1="407.30" y1="535.48" x2="410.80" y2="535.48" stroke="#000" stroke-width="1.3" />
<text x="400.70" y="539.48" font-size="11.5" fill="#000" stroke="#000" stroke-width="0.22" text-anchor="end" >30</text>
<line x1="407.30" y1="509.54" x2="410.80" y2="509.54" stroke="#000" stroke-width="1.3" />
<text x="400.70" y="513.54" font-size="11.5" fill="#000" stroke="#000" stroke-width="0.22" text-anchor="end" >40</text>
<line x1="407.30" y1="483.60" x2="410.80" y2="483.60" stroke="#000" stroke-width="1.3" />
<text x="400.70" y="487.60" font-size="11.5" fill="#000" stroke="#000" stroke-width="0.22" text-anchor="end" >50</text>
<line x1="410.90" y1="613.30" x2="410.90" y2="617.30" stroke="#000" stroke-width="1.3" />
<text x="410.90" y="629.50" font-size="11.5" fill="#000" stroke="#000" stroke-width="0.22" text-anchor="middle" >-50</text>
<line x1="431.94" y1="613.30" x2="431.94" y2="617.30" stroke="#000" stroke-width="1.3" />
<text x="431.94" y="629.50" font-size="11.5" fill="#000" stroke="#000" stroke-width="0.22" text-anchor="middle" >-40</text>
<line x1="452.98" y1="613.30" x2="452.98" y2="617.30" stroke="#000" stroke-width="1.3" />
<text x="452.98" y="629.50" font-size="11.5" fill="#000" stroke="#000" stroke-width="0.22" text-anchor="middle" >-30</text>
<line x1="474.02" y1="613.30" x2="474.02" y2="617.30" stroke="#000" stroke-width="1.3" />
<text x="474.02" y="629.50" font-size="11.5" fill="#000" stroke="#000" stroke-width="0.22" text-anchor="middle" >-20</text>
<line x1="495.06" y1="613.30" x2="495.06" y2="617.30" stroke="#000" stroke-width="1.3" />
<text x="495.06" y="629.50" font-size="11.5" fill="#000" stroke="#000" stroke-width="0.22" text-anchor="middle" >-10</text>
<line x1="516.10" y1="613.30" x2="516.10" y2="617.30" stroke="#000" stroke-width="1.3" />
<text x="516.10" y="629.50" font-size="11.5" fill="#000" stroke="#000" stroke-width="0.22" text-anchor="middle" >0</text>
<text x="441.50" y="648.90" font-size="11.4" fill="#000" stroke="#000" stroke-width="0.22" text-anchor="start" >Time (min)</text>
<text x="416.00" y="478.50" font-size="11.45" fill="#dd8044" stroke="#dd8044" stroke-width="0.22" text-anchor="start" >Untreated n=15</text>
<text x="416.00" y="491.50" font-size="11.45" fill="#6bcc40" stroke="#6bcc40" stroke-width="0.22" text-anchor="start" >Taxol n=19</text>
<text x="418.80" y="505.70" font-size="9.9" fill="#000" stroke="#000" stroke-width="0.22" text-anchor="start" >p&lt;&lt;0.00001</text>
<text x="418.80" y="517.00" font-size="9.9" fill="#000" stroke="#000" stroke-width="0.22" text-anchor="start" >K-S Test</text>
<text transform="translate(382.20,551.40) rotate(-90)" x="0" y="0" font-size="11.36" fill="#000" stroke="#000" stroke-width="0.22" text-anchor="middle" >Cumulative Squared Error (pN<tspan font-size="7.5" dy="-4">2</tspan><tspan dy="4">)</tspan></text>
<polyline points="410.9,609.0 413.8,607.9 440.4,606.1 442.6,603.5 453.7,601.2 473.6,599.9 480.2,598.4 486.9,594.6 497.9,592.8 514.5,591.1" fill="none" stroke="#84f23a" stroke-width="3.6" stroke-linejoin="round" stroke-linecap="round"/>
<polyline points="410.9,608.3 412.7,607.2 415,595 416.5,589 420.5,587.3 427.1,585.1 429.8,577.3 432,576.2 433.8,570.7 436,566.3 440.4,561.9 442.2,557.4 445.9,556.3 461.4,555.2 464.7,550.8 471.4,548.6 473.1,537.5 478,533.1 480.2,523.1 482.4,520.9 485.1,514.3 488.6,513.2 492.4,511 497.9,508.8 502.3,504.3 509,501.7 512.3,494.4 514.1,488.8" fill="none" stroke="#d8752c" stroke-width="1.6"/>
<circle cx="410.90" cy="608.30" r="1.7" fill="#d8752c"/>
<circle cx="413.01" cy="605.58" r="1.7" fill="#d8752c"/>
<circle cx="415.11" cy="594.55" r="1.7" fill="#d8752c"/>
<circle cx="417.22" cy="588.69" r="1.7" fill="#d8752c"/>
<circle cx="419.32" cy="587.80" r="1.7" fill="#d8752c"/>
<circle cx="421.43" cy="586.99" r="1.7" fill="#d8752c"/>
<circle cx="423.54" cy="586.29" r="1.7" fill="#d8752c"/>
<circle cx="425.64" cy="585.59" r="1.7" fill="#d8752c"/>
<circle cx="427.75" cy="583.23" r="1.7" fill="#d8752c"/>
<circle cx="429.86" cy="577.27" r="1.7" fill="#d8752c"/>
<circle cx="431.96" cy="576.22" r="1.7" fill="#d8752c"/>
<circle cx="434.07" cy="570.17" r="1.7" fill="#d8752c"/>
<circle cx="436.17" cy="566.13" r="1.7" fill="#d8752c"/>
<circle cx="438.28" cy="564.02" r="1.7" fill="#d8752c"/>
<circle cx="440.39" cy="561.91" r="1.7" fill="#d8752c"/>
<circle cx="442.49" cy="557.31" r="1.7" fill="#d8752c"/>
<circle cx="444.60" cy="556.69" r="1.7" fill="#d8752c"/>
<circle cx="446.70" cy="556.24" r="1.7" fill="#d8752c"/>
<circle cx="448.81" cy="556.09" r="1.7" fill="#d8752c"/>
<circle cx="450.92" cy="555.94" r="1.7" fill="#d8752c"/>
<circle cx="453.02" cy="555.79" r="1.7" fill="#d8752c"/>
<circle cx="455.13" cy="555.65" r="1.7" fill="#d8752c"/>
<circle cx="457.23" cy="555.50" r="1.7" fill="#d8752c"/>
<circle cx="459.34" cy="555.35" r="1.7" fill="#d8752c"/>
<circle cx="461.45" cy="555.14" r="1.7" fill="#d8752c"/>
<circle cx="463.55" cy="552.33" r="1.7" fill="#d8752c"/>
<circle cx="465.66" cy="550.49" r="1.7" fill="#d8752c"/>
<circle cx="467.77" cy="549.79" r="1.7" fill="#d8752c"/>
<circle cx="469.87" cy="549.10" r="1.7" fill="#d8752c"/>
<circle cx="471.98" cy="544.83" r="1.7" fill="#d8752c"/>
<circle cx="474.08" cy="536.62" r="1.7" fill="#d8752c"/>
<circle cx="476.19" cy="534.73" r="1.7" fill="#d8752c"/>
<circle cx="478.30" cy="531.75" r="1.7" fill="#d8752c"/>
<circle cx="480.40" cy="522.90" r="1.7" fill="#d8752c"/>
<circle cx="482.51" cy="520.64" r="1.7" fill="#d8752c"/>
<circle cx="484.61" cy="515.49" r="1.7" fill="#d8752c"/>
<circle cx="486.72" cy="513.79" r="1.7" fill="#d8752c"/>
<circle cx="488.83" cy="513.07" r="1.7" fill="#d8752c"/>
<circle cx="490.93" cy="511.85" r="1.7" fill="#d8752c"/>
<circle cx="493.04" cy="510.74" r="1.7" fill="#d8752c"/>
<circle cx="495.14" cy="509.90" r="1.7" fill="#d8752c"/>
<circle cx="497.25" cy="509.06" r="1.7" fill="#d8752c"/>
<circle cx="499.36" cy="507.31" r="1.7" fill="#d8752c"/>
<circle cx="501.46" cy="505.16" r="1.7" fill="#d8752c"/>
<circle cx="503.57" cy="503.81" r="1.7" fill="#d8752c"/>
<circle cx="505.68" cy="502.99" r="1.7" fill="#d8752c"/>
<circle cx="507.78" cy="502.17" r="1.7" fill="#d8752c"/>
<circle cx="509.89" cy="499.74" r="1.7" fill="#d8752c"/>
<circle cx="511.99" cy="495.08" r="1.7" fill="#d8752c"/>
<circle cx="514.10" cy="488.80" r="1.7" fill="#d8752c"/>
<circle cx="410.9" cy="608.3" r="1.7" fill="#d8752c"/>
<circle cx="412.7" cy="607.2" r="1.7" fill="#d8752c"/>
<circle cx="415" cy="595" r="1.7" fill="#d8752c"/>
<circle cx="416.5" cy="589" r="1.7" fill="#d8752c"/>
<circle cx="420.5" cy="587.3" r="1.7" fill="#d8752c"/>
<circle cx="427.1" cy="585.1" r="1.7" fill="#d8752c"/>
<circle cx="429.8" cy="577.3" r="1.7" fill="#d8752c"/>
<circle cx="432" cy="576.2" r="1.7" fill="#d8752c"/>
<circle cx="433.8" cy="570.7" r="1.7" fill="#d8752c"/>
<circle cx="436" cy="566.3" r="1.7" fill="#d8752c"/>
<circle cx="440.4" cy="561.9" r="1.7" fill="#d8752c"/>
<circle cx="442.2" cy="557.4" r="1.7" fill="#d8752c"/>
<circle cx="445.9" cy="556.3" r="1.7" fill="#d8752c"/>
<circle cx="461.4" cy="555.2" r="1.7" fill="#d8752c"/>
<circle cx="464.7" cy="550.8" r="1.7" fill="#d8752c"/>
<circle cx="471.4" cy="548.6" r="1.7" fill="#d8752c"/>
<circle cx="473.1" cy="537.5" r="1.7" fill="#d8752c"/>
<circle cx="478" cy="533.1" r="1.7" fill="#d8752c"/>
<circle cx="480.2" cy="523.1" r="1.7" fill="#d8752c"/>
<circle cx="482.4" cy="520.9" r="1.7" fill="#d8752c"/>
<circle cx="485.1" cy="514.3" r="1.7" fill="#d8752c"/>
<circle cx="488.6" cy="513.2" r="1.7" fill="#d8752c"/>
<circle cx="492.4" cy="511" r="1.7" fill="#d8752c"/>
<circle cx="497.9" cy="508.8" r="1.7" fill="#d8752c"/>
<circle cx="502.3" cy="504.3" r="1.7" fill="#d8752c"/>
<circle cx="509" cy="501.7" r="1.7" fill="#d8752c"/>
<circle cx="512.3" cy="494.4" r="1.7" fill="#d8752c"/>
<circle cx="514.1" cy="488.8" r="1.7" fill="#d8752c"/>
<circle cx="410.90" cy="609.00" r="2.2" fill="#84f23a"/>
<circle cx="413.01" cy="608.20" r="2.2" fill="#84f23a"/>
<circle cx="415.13" cy="607.81" r="2.2" fill="#84f23a"/>
<circle cx="417.24" cy="607.67" r="2.2" fill="#84f23a"/>
<circle cx="419.36" cy="607.52" r="2.2" fill="#84f23a"/>
<circle cx="421.47" cy="607.38" r="2.2" fill="#84f23a"/>
<circle cx="423.59" cy="607.24" r="2.2" fill="#84f23a"/>
<circle cx="425.70" cy="607.09" r="2.2" fill="#84f23a"/>
<circle cx="427.81" cy="606.95" r="2.2" fill="#84f23a"/>
<circle cx="429.93" cy="606.81" r="2.2" fill="#84f23a"/>
<circle cx="432.04" cy="606.67" r="2.2" fill="#84f23a"/>
<circle cx="434.16" cy="606.52" r="2.2" fill="#84f23a"/>
<circle cx="436.27" cy="606.38" r="2.2" fill="#84f23a"/>
<circle cx="438.39" cy="606.24" r="2.2" fill="#84f23a"/>
<circle cx="440.50" cy="605.98" r="2.2" fill="#84f23a"/>
<circle cx="442.61" cy="603.50" r="2.2" fill="#84f23a"/>
<circle cx="444.73" cy="603.06" r="2.2" fill="#84f23a"/>
<circle cx="446.84" cy="602.62" r="2.2" fill="#84f23a"/>
<circle cx="448.96" cy="602.18" r="2.2" fill="#84f23a"/>
<circle cx="451.07" cy="601.74" r="2.2" fill="#84f23a"/>
<circle cx="453.19" cy="601.31" r="2.2" fill="#84f23a"/>
<circle cx="455.30" cy="601.10" r="2.2" fill="#84f23a"/>
<circle cx="457.41" cy="600.96" r="2.2" fill="#84f23a"/>
<circle cx="459.53" cy="600.82" r="2.2" fill="#84f23a"/>
<circle cx="461.64" cy="600.68" r="2.2" fill="#84f23a"/>
<circle cx="463.76" cy="600.54" r="2.2" fill="#84f23a"/>
<circle cx="465.87" cy="600.40" r="2.2" fill="#84f23a"/>
<circle cx="467.99" cy="600.27" r="2.2" fill="#84f23a"/>
<circle cx="470.10" cy="600.13" r="2.2" fill="#84f23a"/>
<circle cx="472.21" cy="599.99" r="2.2" fill="#84f23a"/>
<circle cx="474.33" cy="599.73" r="2.2" fill="#84f23a"/>
<circle cx="476.44" cy="599.25" r="2.2" fill="#84f23a"/>
<circle cx="478.56" cy="598.77" r="2.2" fill="#84f23a"/>
<circle cx="480.67" cy="598.13" r="2.2" fill="#84f23a"/>
<circle cx="482.79" cy="596.93" r="2.2" fill="#84f23a"/>
<circle cx="484.90" cy="595.73" r="2.2" fill="#84f23a"/>
<circle cx="487.01" cy="594.58" r="2.2" fill="#84f23a"/>
<circle cx="489.13" cy="594.24" r="2.2" fill="#84f23a"/>
<circle cx="491.24" cy="593.89" r="2.2" fill="#84f23a"/>
<circle cx="493.36" cy="593.54" r="2.2" fill="#84f23a"/>
<circle cx="495.47" cy="593.20" r="2.2" fill="#84f23a"/>
<circle cx="497.59" cy="592.85" r="2.2" fill="#84f23a"/>
<circle cx="499.70" cy="592.62" r="2.2" fill="#84f23a"/>
<circle cx="501.81" cy="592.40" r="2.2" fill="#84f23a"/>
<circle cx="503.93" cy="592.18" r="2.2" fill="#84f23a"/>
<circle cx="506.04" cy="591.97" r="2.2" fill="#84f23a"/>
<circle cx="508.16" cy="591.75" r="2.2" fill="#84f23a"/>
<circle cx="510.27" cy="591.53" r="2.2" fill="#84f23a"/>
<circle cx="512.39" cy="591.32" r="2.2" fill="#84f23a"/>
<circle cx="514.50" cy="591.10" r="2.2" fill="#84f23a"/>
<line x1="44.30" y1="691.50" x2="44.30" y2="827.30" stroke="#000" stroke-width="1.3" />
<line x1="43.70" y1="823.30" x2="121.20" y2="823.30" stroke="#000" stroke-width="1.3" />
<line x1="40.80" y1="823.30" x2="44.30" y2="823.30" stroke="#000" stroke-width="1.3" />
<text x="34.80" y="827.30" font-size="11.5" fill="#000" stroke="#000" stroke-width="0.22" text-anchor="end" >0</text>
<line x1="40.80" y1="806.89" x2="44.30" y2="806.89" stroke="#000" stroke-width="1.3" />
<text x="34.80" y="810.89" font-size="11.5" fill="#000" stroke="#000" stroke-width="0.22" text-anchor="end" >2</text>
<line x1="40.80" y1="790.48" x2="44.30" y2="790.48" stroke="#000" stroke-width="1.3" />
<text x="34.80" y="794.48" font-size="11.5" fill="#000" stroke="#000" stroke-width="0.22" text-anchor="end" >4</text>
<line x1="40.80" y1="774.07" x2="44.30" y2="774.07" stroke="#000" stroke-width="1.3" />
<text x="34.80" y="778.07" font-size="11.5" fill="#000" stroke="#000" stroke-width="0.22" text-anchor="end" >6</text>
<line x1="40.80" y1="757.66" x2="44.30" y2="757.66" stroke="#000" stroke-width="1.3" />
<text x="34.80" y="761.66" font-size="11.5" fill="#000" stroke="#000" stroke-width="0.22" text-anchor="end" >8</text>
<line x1="40.80" y1="741.25" x2="44.30" y2="741.25" stroke="#000" stroke-width="1.3" />
<text x="34.80" y="745.25" font-size="11.5" fill="#000" stroke="#000" stroke-width="0.22" text-anchor="end" >10</text>
<line x1="40.80" y1="724.84" x2="44.30" y2="724.84" stroke="#000" stroke-width="1.3" />
<text x="34.80" y="728.84" font-size="11.5" fill="#000" stroke="#000" stroke-width="0.22" text-anchor="end" >12</text>
<line x1="40.80" y1="708.43" x2="44.30" y2="708.43" stroke="#000" stroke-width="1.3" />
<text x="34.80" y="712.43" font-size="11.5" fill="#000" stroke="#000" stroke-width="0.22" text-anchor="end" >14</text>
<line x1="40.80" y1="692.02" x2="44.30" y2="692.02" stroke="#000" stroke-width="1.3" />
<text x="34.80" y="696.02" font-size="11.5" fill="#000" stroke="#000" stroke-width="0.22" text-anchor="end" >16</text>
<text x="62.80" y="691.50" font-size="11.25" fill="#000" stroke="#000" stroke-width="0.22" text-anchor="start" >p&lt;&lt;0.00001</text>
<line x1="67.30" y1="697.00" x2="115.80" y2="697.00" stroke="#2a2a2a" stroke-width="1.2" />
<text x="44.00" y="837.00" font-size="11.4" fill="#dd8044" stroke="#dd8044" stroke-width="0.22" text-anchor="start" >Untreated</text>
<text x="44.50" y="850.90" font-size="11.4" fill="#dd8044" stroke="#dd8044" stroke-width="0.22" text-anchor="start" >n=157</text>
<text x="100.00" y="837.00" font-size="11.4" fill="#6bcc40" stroke="#6bcc40" stroke-width="0.22" text-anchor="start" >Taxol</text>
<text x="100.00" y="850.90" font-size="11.4" fill="#6bcc40" stroke="#6bcc40" stroke-width="0.22" text-anchor="start" >n=103</text>
<text transform="translate(16.30,762.80) rotate(-90)" x="0" y="0" font-size="11.86" fill="#000" stroke="#000" stroke-width="0.22" text-anchor="middle" ><tspan font-style="italic">F</tspan><tspan font-size="7.5" dy="2">tension</tspan><tspan dy="-2"> (pN)</tspan></text>
<circle cx="72.4" cy="709.5" r="1.9" fill="#d8782f" opacity="0.6"/>
<circle cx="76.8" cy="715.4" r="1.9" fill="#d8782f" opacity="0.6"/>
<circle cx="68.5" cy="718.9" r="1.9" fill="#d8782f" opacity="0.6"/>
<circle cx="77.7" cy="722.9" r="1.9" fill="#d8782f" opacity="0.6"/>
<circle cx="65.3" cy="732.5" r="1.9" fill="#d8782f" opacity="0.6"/><circle cx="72.4" cy="731.7" r="1.9" fill="#d8782f" opacity="0.6"/><circle cx="80.1" cy="732.5" r="1.9" fill="#d8782f" opacity="0.6"/>
<circle cx="68.7" cy="735.8" r="1.9" fill="#d8782f" opacity="0.6"/><circle cx="73.3" cy="737.2" r="1.9" fill="#d8782f" opacity="0.6"/><circle cx="77.2" cy="736.7" r="1.9" fill="#d8782f" opacity="0.6"/><circle cx="80.8" cy="735.7" r="1.9" fill="#d8782f" opacity="0.6"/>
<circle cx="63.1" cy="739.4" r="1.9" fill="#d8782f" opacity="0.6"/><circle cx="65.7" cy="739.7" r="1.9" fill="#d8782f" opacity="0.6"/><circle cx="68.5" cy="740.0" r="1.9" fill="#d8782f" opacity="0.6"/><circle cx="71.9" cy="740.6" r="1.9" fill="#d8782f" opacity="0.6"/>
<circle cx="67.8" cy="743.5" r="1.9" fill="#d8782f" opacity="0.6"/><circle cx="72.2" cy="743.6" r="1.9" fill="#d8782f" opacity="0.6"/>
<circle cx="64.3" cy="747.4" r="1.9" fill="#d8782f" opacity="0.6"/><circle cx="70.4" cy="748.6" r="1.9" fill="#d8782f" opacity="0.6"/><circle cx="75.6" cy="748.1" r="1.9" fill="#d8782f" opacity="0.6"/><circle cx="80.4" cy="747.4" r="1.9" fill="#d8782f" opacity="0.6"/>
<circle cx="62.2" cy="751.3" r="1.9" fill="#d8782f" opacity="0.6"/><circle cx="64.9" cy="751.8" r="1.9" fill="#d8782f" opacity="0.6"/><circle cx="67.1" cy="751.8" r="1.9" fill="#d8782f" opacity="0.6"/><circle cx="69.4" cy="752.6" r="1.9" fill="#d8782f" opacity="0.6"/><circle cx="70.3" cy="751.5" r="1.9" fill="#d8782f" opacity="0.6"/><circle cx="73.5" cy="752.0" r="1.9" fill="#d8782f" opacity="0.6"/><circle cx="75.7" cy="751.8" r="1.9" fill="#d8782f" opacity="0.6"/><circle cx="76.8" cy="752.2" r="1.9" fill="#d8782f" opacity="0.6"/><circle cx="79.7" cy="751.6" r="1.9" fill="#d8782f" opacity="0.6"/><circle cx="81.0" cy="751.7" r="1.9" fill="#d8782f" opacity="0.6"/>
<circle cx="65.6" cy="754.9" r="1.9" fill="#d8782f" opacity="0.6"/><circle cx="67.5" cy="754.1" r="1.9" fill="#d8782f" opacity="0.6"/><circle cx="70.5" cy="753.8" r="1.9" fill="#d8782f" opacity="0.6"/><circle cx="74.4" cy="754.0" r="1.9" fill="#d8782f" opacity="0.6"/><circle cx="77.1" cy="754.4" r="1.9" fill="#d8782f" opacity="0.6"/><circle cx="79.6" cy="754.9" r="1.9" fill="#d8782f" opacity="0.6"/>
<circle cx="62.6" cy="764.0" r="1.9" fill="#d8782f" opacity="0.6"/><circle cx="66.8" cy="763.7" r="1.9" fill="#d8782f" opacity="0.6"/><circle cx="71.2" cy="763.4" r="1.9" fill="#d8782f" opacity="0.6"/><circle cx="76.3" cy="764.3" r="1.9" fill="#d8782f" opacity="0.6"/><circle cx="79.8" cy="764.4" r="1.9" fill="#d8782f" opacity="0.6"/>
<circle cx="61.7" cy="765.8" r="1.9" fill="#d8782f" opacity="0.6"/><circle cx="65.3" cy="766.2" r="1.9" fill="#d8782f" opacity="0.6"/><circle cx="67.2" cy="766.8" r="1.9" fill="#d8782f" opacity="0.6"/><circle cx="70.2" cy="765.6" r="1.9" fill="#d8782f" opacity="0.6"/><circle cx="73.8" cy="765.7" r="1.9" fill="#d8782f" opacity="0.6"/><circle cx="76.0" cy="765.3" r="1.9" fill="#d8782f" opacity="0.6"/><circle cx="78.7" cy="766.1" r="1.9" fill="#d8782f" opacity="0.6"/><circle cx="81.7" cy="766.2" r="1.9" fill="#d8782f" opacity="0.6"/>
<circle cx="61.8" cy="769.3" r="1.9" fill="#d8782f" opacity="0.6"/><circle cx="65.3" cy="769.4" r="1.9" fill="#d8782f" opacity="0.6"/><circle cx="67.6" cy="770.0" r="1.9" fill="#d8782f" opacity="0.6"/><circle cx="69.9" cy="768.8" r="1.9" fill="#d8782f" opacity="0.6"/><circle cx="73.5" cy="769.9" r="1.9" fill="#d8782f" opacity="0.6"/><circle cx="75.4" cy="768.9" r="1.9" fill="#d8782f" opacity="0.6"/><circle cx="78.8" cy="770.1" r="1.9" fill="#d8782f" opacity="0.6"/><circle cx="80.9" cy="770.1" r="1.9" fill="#d8782f" opacity="0.6"/><circle cx="84.5" cy="769.6" r="1.9" fill="#d8782f" opacity="0.6"/>
<circle cx="63.9" cy="771.4" r="1.9" fill="#d8782f" opacity="0.6"/><circle cx="66.4" cy="772.7" r="1.9" fill="#d8782f" opacity="0.6"/><circle cx="69.7" cy="772.3" r="1.9" fill="#d8782f" opacity="0.6"/><circle cx="72.7" cy="772.5" r="1.9" fill="#d8782f" opacity="0.6"/><circle cx="76.1" cy="771.7" r="1.9" fill="#d8782f" opacity="0.6"/><circle cx="78.6" cy="772.4" r="1.9" fill="#d8782f" opacity="0.6"/><circle cx="81.5" cy="771.6" r="1.9" fill="#d8782f" opacity="0.6"/>
<circle cx="65.2" cy="779.4" r="1.9" fill="#d8782f" opacity="0.6"/><circle cx="68.9" cy="778.4" r="1.9" fill="#d8782f" opacity="0.6"/><circle cx="72.9" cy="778.3" r="1.9" fill="#d8782f" opacity="0.6"/><circle cx="75.4" cy="778.4" r="1.9" fill="#d8782f" opacity="0.6"/><circle cx="79.6" cy="778.1" r="1.9" fill="#d8782f" opacity="0.6"/><circle cx="82.9" cy="778.6" r="1.9" fill="#d8782f" opacity="0.6"/>
<circle cx="62.1" cy="785.6" r="1.9" fill="#d8782f" opacity="0.6"/><circle cx="64.7" cy="786.8" r="1.9" fill="#d8782f" opacity="0.6"/><circle cx="68.3" cy="786.5" r="1.9" fill="#d8782f" opacity="0.6"/><circle cx="70.8" cy="786.3" r="1.9" fill="#d8782f" opacity="0.6"/><circle cx="73.0" cy="785.5" r="1.9" fill="#d8782f" opacity="0.6"/><circle cx="75.7" cy="786.9" r="1.9" fill="#d8782f" opacity="0.6"/><circle cx="79.4" cy="786.9" r="1.9" fill="#d8782f" opacity="0.6"/><circle cx="81.4" cy="786.4" r="1.9" fill="#d8782f" opacity="0.6"/>
<circle cx="62.0" cy="789.4" r="1.9" fill="#d8782f" opacity="0.6"/><circle cx="64.5" cy="789.8" r="1.9" fill="#d8782f" opacity="0.6"/><circle cx="66.9" cy="789.1" r="1.9" fill="#d8782f" opacity="0.6"/><circle cx="70.4" cy="789.6" r="1.9" fill="#d8782f" opacity="0.6"/><circle cx="73.1" cy="789.3" r="1.9" fill="#d8782f" opacity="0.6"/><circle cx="75.9" cy="789.7" r="1.9" fill="#d8782f" opacity="0.6"/><circle cx="78.1" cy="789.3" r="1.9" fill="#d8782f" opacity="0.6"/><circle cx="81.5" cy="789.6" r="1.9" fill="#d8782f" opacity="0.6"/>
<circle cx="61.9" cy="792.8" r="1.9" fill="#d8782f" opacity="0.6"/><circle cx="65.3" cy="792.4" r="1.9" fill="#d8782f" opacity="0.6"/><circle cx="67.9" cy="792.1" r="1.9" fill="#d8782f" opacity="0.6"/><circle cx="70.7" cy="792.5" r="1.9" fill="#d8782f" opacity="0.6"/><circle cx="72.9" cy="792.5" r="1.9" fill="#d8782f" opacity="0.6"/><circle cx="76.9" cy="792.9" r="1.9" fill="#d8782f" opacity="0.6"/><circle cx="79.4" cy="792.1" r="1.9" fill="#d8782f" opacity="0.6"/><circle cx="82.3" cy="792.4" r="1.9" fill="#d8782f" opacity="0.6"/>
<circle cx="68.4" cy="803.3" r="1.9" fill="#d8782f" opacity="0.6"/><circle cx="74.7" cy="803.2" r="1.9" fill="#d8782f" opacity="0.6"/><circle cx="81.3" cy="803.0" r="1.9" fill="#d8782f" opacity="0.6"/>
<circle cx="63.1" cy="806.4" r="1.9" fill="#d8782f" opacity="0.6"/><circle cx="69.2" cy="806.8" r="1.9" fill="#d8782f" opacity="0.6"/><circle cx="75.0" cy="807.5" r="1.9" fill="#d8782f" opacity="0.6"/>
<circle cx="70.6" cy="816.0" r="1.9" fill="#d8782f" opacity="0.6"/>
<circle cx="117.0" cy="733.3" r="1.9" fill="#78f03a" opacity="0.7"/>
<circle cx="106.0" cy="750.4" r="1.9" fill="#78f03a" opacity="0.7"/>
<circle cx="114.7" cy="754.1" r="1.9" fill="#78f03a" opacity="0.7"/><circle cx="118.4" cy="754.4" r="1.9" fill="#78f03a" opacity="0.7"/>
<circle cx="110.3" cy="757.9" r="1.9" fill="#78f03a" opacity="0.7"/><circle cx="117.2" cy="757.5" r="1.9" fill="#78f03a" opacity="0.7"/>
<circle cx="103.2" cy="764.2" r="1.9" fill="#78f03a" opacity="0.7"/><circle cx="114.5" cy="763.3" r="1.9" fill="#78f03a" opacity="0.7"/>
<circle cx="102.9" cy="768.3" r="1.9" fill="#78f03a" opacity="0.7"/><circle cx="111.1" cy="768.6" r="1.9" fill="#78f03a" opacity="0.7"/>
<circle cx="101.8" cy="769.8" r="1.9" fill="#78f03a" opacity="0.7"/><circle cx="111.8" cy="769.9" r="1.9" fill="#78f03a" opacity="0.7"/>
<circle cx="111.2" cy="775.7" r="1.9" fill="#78f03a" opacity="0.7"/><circle cx="114.2" cy="775.8" r="1.9" fill="#78f03a" opacity="0.7"/><circle cx="116.7" cy="776.1" r="1.9" fill="#78f03a" opacity="0.7"/>
<circle cx="101.2" cy="780.9" r="1.9" fill="#78f03a" opacity="0.7"/><circle cx="104.8" cy="781.4" r="1.9" fill="#78f03a" opacity="0.7"/><circle cx="109.6" cy="780.8" r="1.9" fill="#78f03a" opacity="0.7"/><circle cx="112.5" cy="780.2" r="1.9" fill="#78f03a" opacity="0.7"/><circle cx="117.4" cy="780.2" r="1.9" fill="#78f03a" opacity="0.7"/>
<circle cx="103.3" cy="788.4" r="1.9" fill="#78f03a" opacity="0.7"/><circle cx="105.1" cy="788.8" r="1.9" fill="#78f03a" opacity="0.7"/><circle cx="107.1" cy="787.7" r="1.9" fill="#78f03a" opacity="0.7"/><circle cx="109.9" cy="787.5" r="1.9" fill="#78f03a" opacity="0.7"/><circle cx="112.7" cy="787.9" r="1.9" fill="#78f03a" opacity="0.7"/><circle cx="114.2" cy="787.6" r="1.9" fill="#78f03a" opacity="0.7"/><circle cx="117.2" cy="788.2" r="1.9" fill="#78f03a" opacity="0.7"/>
<circle cx="101.2" cy="793.8" r="1.9" fill="#78f03a" opacity="0.7"/><circle cx="103.5" cy="794.3" r="1.9" fill="#78f03a" opacity="0.7"/><circle cx="105.4" cy="793.1" r="1.9" fill="#78f03a" opacity="0.7"/><circle cx="107.3" cy="793.1" r="1.9" fill="#78f03a" opacity="0.7"/><circle cx="108.9" cy="793.6" r="1.9" fill="#78f03a" opacity="0.7"/><circle cx="111.8" cy="793.1" r="1.9" fill="#78f03a" opacity="0.7"/><circle cx="113.4" cy="793.4" r="1.9" fill="#78f03a" opacity="0.7"/><circle cx="116.0" cy="793.6" r="1.9" fill="#78f03a" opacity="0.7"/><circle cx="118.0" cy="794.0" r="1.9" fill="#78f03a" opacity="0.7"/><circle cx="119.9" cy="794.1" r="1.9" fill="#78f03a" opacity="0.7"/>
<circle cx="102.0" cy="798.1" r="1.9" fill="#78f03a" opacity="0.7"/><circle cx="104.2" cy="799.2" r="1.9" fill="#78f03a" opacity="0.7"/><circle cx="105.4" cy="798.7" r="1.9" fill="#78f03a" opacity="0.7"/><circle cx="108.2" cy="799.5" r="1.9" fill="#78f03a" opacity="0.7"/><circle cx="110.1" cy="798.9" r="1.9" fill="#78f03a" opacity="0.7"/><circle cx="112.9" cy="799.3" r="1.9" fill="#78f03a" opacity="0.7"/><circle cx="115.2" cy="798.7" r="1.9" fill="#78f03a" opacity="0.7"/><circle cx="117.0" cy="798.3" r="1.9" fill="#78f03a" opacity="0.7"/><circle cx="119.3" cy="799.3" r="1.9" fill="#78f03a" opacity="0.7"/>
<circle cx="99.7" cy="807.1" r="1.9" fill="#78f03a" opacity="0.7"/><circle cx="101.2" cy="807.4" r="1.9" fill="#78f03a" opacity="0.7"/><circle cx="104.2" cy="807.6" r="1.9" fill="#78f03a" opacity="0.7"/><circle cx="105.7" cy="807.3" r="1.9" fill="#78f03a" opacity="0.7"/><circle cx="107.5" cy="807.5" r="1.9" fill="#78f03a" opacity="0.7"/><circle cx="110.2" cy="806.6" r="1.9" fill="#78f03a" opacity="0.7"/><circle cx="111.3" cy="806.7" r="1.9" fill="#78f03a" opacity="0.7"/><circle cx="113.9" cy="807.2" r="1.9" fill="#78f03a" opacity="0.7"/><circle cx="115.9" cy="806.0" r="1.9" fill="#78f03a" opacity="0.7"/><circle cx="118.3" cy="806.1" r="1.9" fill="#78f03a" opacity="0.7"/><circle cx="120.4" cy="806.3" r="1.9" fill="#78f03a" opacity="0.7"/>
<circle cx="101.8" cy="811.0" r="1.9" fill="#78f03a" opacity="0.7"/><circle cx="104.6" cy="809.9" r="1.9" fill="#78f03a" opacity="0.7"/><circle cx="108.0" cy="810.9" r="1.9" fill="#78f03a" opacity="0.7"/><circle cx="111.4" cy="810.8" r="1.9" fill="#78f03a" opacity="0.7"/>
<circle cx="105.0" cy="818.1" r="1.9" fill="#78f03a" opacity="0.7"/>
<text x="186.20" y="678.80" font-size="11.2" fill="#000" stroke="#000" stroke-width="0.22" text-anchor="start" >Cell Lysate:</text>
<text x="172.50" y="691.70" font-size="11.4" fill="#000" stroke="#000" stroke-width="0.22" text-anchor="start" >α-Dam1 Western</text>
<rect x="150.3" y="697" width="121.2" height="97.4" fill="none" stroke="#f0b428" stroke-width="1.4"/>
<rect x="150.3" y="797.8" width="121.7" height="26.9" fill="none" stroke="#e31a1c" stroke-width="1.4"/>
<rect x="182.5" y="699" width="21.1" height="124" fill="#fbfbfb"/>
<rect x="206.6" y="699" width="29" height="124" fill="url(#lane2)"/>
<rect x="238" y="699" width="29.5" height="124" fill="url(#lane3)"/>
<rect x="206.6" y="699" width="29" height="124" fill="#000" filter="url(#noise)" opacity="0.24"/>
<rect x="206.6" y="699" width="29" height="124" fill="#000" filter="url(#noise2)" opacity="0.22"/>
<rect x="238" y="699" width="29.5" height="124" fill="#000" filter="url(#noise)" opacity="0.24"/>
<rect x="238" y="699" width="29.5" height="124" fill="#000" filter="url(#noise2)" opacity="0.22"/>
<rect x="182.5" y="699" width="21.1" height="124" fill="#000" filter="url(#noise)" opacity="0.07"/>
<ellipse cx="190.6" cy="705.8" rx="3.9" ry="2.3" fill="#050505" filter="url(#blur05)"/>
<ellipse cx="190.0" cy="722.2" rx="6.4" ry="5.8" fill="#050505" filter="url(#blur05)"/>
<ellipse cx="193.0" cy="727.5" rx="6.5" ry="5.5" fill="#050505" filter="url(#blur05)"/>
<ellipse cx="191.5" cy="729.5" rx="6.6" ry="8.5" fill="#050505" filter="url(#blur05)"/>
<ellipse cx="190.8" cy="731.2" rx="7.8" ry="5.0" fill="#050505" filter="url(#blur05)"/>
<ellipse cx="194.4" cy="737.2" rx="7.6" ry="4.6" fill="#050505" filter="url(#blur05)"/>
<ellipse cx="196.3" cy="759" rx="4.9" ry="2.7" fill="#050505" filter="url(#blur05)"/>
<ellipse cx="192.2" cy="758.6" rx="1.6" ry="1.1" fill="#050505" filter="url(#blur05)"/>
<ellipse cx="195.6" cy="793.6" rx="6.0" ry="3.1" fill="#050505" filter="url(#blur05)"/>
<rect x="182.5" y="699" width="21.1" height="124" fill="none" stroke="#111" stroke-width="1.35"/>
<rect x="206.6" y="699" width="29" height="124" fill="none" stroke="#111" stroke-width="1.35"/>
<rect x="238" y="699" width="29.5" height="124" fill="none" stroke="#111" stroke-width="1.35"/>
<text x="153.00" y="707.10" font-size="8.5" fill="#000" stroke="#000" stroke-width="0.22" text-anchor="start" >200kd</text>
<text x="176.00" y="741.10" font-size="8.5" fill="#000" stroke="#000" stroke-width="0.22" text-anchor="end" >97kd</text>
<text x="176.00" y="761.30" font-size="8.5" fill="#000" stroke="#000" stroke-width="0.22" text-anchor="end" >66kd</text>
<text x="176.30" y="792.70" font-size="8.5" fill="#000" stroke="#000" stroke-width="0.22" text-anchor="end" >45kd</text>
<text transform="translate(143.80,739.90) rotate(-90)" x="0" y="0" font-size="9.9" fill="#e0b030" stroke="#e0b030" stroke-width="0.22" text-anchor="middle" >Phosphorylated</text>
<text transform="translate(144.60,809.20) rotate(-90)" x="0" y="0" font-size="10.2" fill="#e31a1c" stroke="#e31a1c" stroke-width="0.22" text-anchor="middle" >DePhos</text>
<text x="187.60" y="840.60" font-size="11.7" fill="#dd8044" stroke="#dd8044" stroke-width="0.22" text-anchor="start" >Untreated</text>
<text x="241.20" y="840.60" font-size="12.0" fill="#6bcc40" stroke="#6bcc40" stroke-width="0.22" text-anchor="start" >Taxol</text>
<line x1="329.10" y1="699.80" x2="329.10" y2="823.30" stroke="#000" stroke-width="1.3" />
<line x1="325.60" y1="823.30" x2="382.00" y2="823.30" stroke="#000" stroke-width="1.3" />
<line x1="325.60" y1="823.30" x2="329.10" y2="823.30" stroke="#000" stroke-width="1.3" />
<text x="318.90" y="827.10" font-size="11.3" fill="#000" stroke="#000" stroke-width="0.22" text-anchor="end" >0.55</text>
<line x1="325.60" y1="798.72" x2="329.10" y2="798.72" stroke="#000" stroke-width="1.3" />
<text x="318.90" y="802.52" font-size="11.3" fill="#000" stroke="#000" stroke-width="0.22" text-anchor="end" >0.58</text>
<line x1="325.60" y1="774.14" x2="329.10" y2="774.14" stroke="#000" stroke-width="1.3" />
<text x="318.90" y="777.94" font-size="11.3" fill="#000" stroke="#000" stroke-width="0.22" text-anchor="end" >0.61</text>
<line x1="325.60" y1="749.56" x2="329.10" y2="749.56" stroke="#000" stroke-width="1.3" />
<text x="318.90" y="753.36" font-size="11.3" fill="#000" stroke="#000" stroke-width="0.22" text-anchor="end" >0.64</text>
<line x1="325.60" y1="724.98" x2="329.10" y2="724.98" stroke="#000" stroke-width="1.3" />
<text x="318.90" y="728.78" font-size="11.3" fill="#000" stroke="#000" stroke-width="0.22" text-anchor="end" >0.67</text>
<line x1="325.60" y1="700.40" x2="329.10" y2="700.40" stroke="#000" stroke-width="1.3" />
<text x="318.90" y="704.20" font-size="11.3" fill="#000" stroke="#000" stroke-width="0.22" text-anchor="end" >0.7</text>
<text x="343.40" y="688.80" font-size="11.2" fill="#000" stroke="#000" stroke-width="0.22" text-anchor="start" >ANOVA</text>
<text x="337.60" y="703.10" font-size="11.7" fill="#000" stroke="#000" stroke-width="0.22" text-anchor="start" >p=0.0037</text>
<line x1="342.00" y1="710.50" x2="386.60" y2="710.50" stroke="#3a3a3a" stroke-width="1.0" />
<text x="311.80" y="840.00" font-size="11.6" fill="#dd8044" stroke="#dd8044" stroke-width="0.22" text-anchor="start" >Untreated</text>
<text x="365.70" y="840.00" font-size="11.6" fill="#6bcc40" stroke="#6bcc40" stroke-width="0.22" text-anchor="start" >Taxol</text>
<text transform="translate(289.40,765.10) rotate(-90)" x="0" y="0" font-size="11.4" fill="#000" stroke="#000" stroke-width="0.22" text-anchor="middle" >Fraction Phosphorylation</text>
<polygon points="370.9,717.3 376.3,726.8 365.5,726.8" fill="#80ee40"/>
<circle cx="370.9" cy="741.7" r="4.9" fill="none" stroke="#70e030" stroke-width="1.6"/>
<path d="M368.2,742.6 L373.6,748 M373.6,742.6 L368.2,748" stroke="#70e030" stroke-width="1.5"/>
<polygon points="343.3,773.8 348.6,783.4 338.0,783.4" fill="#d8752c"/>
<rect x="340.1" y="791.3" width="6.3" height="5.8" fill="#d8752c"/>
<circle cx="343.3" cy="789" r="4.9" fill="#fff" stroke="#d8752c" stroke-width="1.8"/>
<line x1="444.50" y1="695.70" x2="444.50" y2="817.50" stroke="#000" stroke-width="1.3" />
<line x1="441.00" y1="817.50" x2="515.00" y2="817.50" stroke="#000" stroke-width="1.3" />
<line x1="441.00" y1="817.50" x2="444.50" y2="817.50" stroke="#000" stroke-width="1.3" />
<text x="435.00" y="821.50" font-size="11.6" fill="#000" stroke="#000" stroke-width="0.22" text-anchor="end" >0</text>
<line x1="441.00" y1="802.34" x2="444.50" y2="802.34" stroke="#000" stroke-width="1.3" />
<text x="435.00" y="806.34" font-size="11.6" fill="#000" stroke="#000" stroke-width="0.22" text-anchor="end" >0.01</text>
<line x1="441.00" y1="787.18" x2="444.50" y2="787.18" stroke="#000" stroke-width="1.3" />
<text x="435.00" y="791.18" font-size="11.6" fill="#000" stroke="#000" stroke-width="0.22" text-anchor="end" >0.02</text>
<line x1="441.00" y1="772.02" x2="444.50" y2="772.02" stroke="#000" stroke-width="1.3" />
<text x="435.00" y="776.02" font-size="11.6" fill="#000" stroke="#000" stroke-width="0.22" text-anchor="end" >0.03</text>
<line x1="441.00" y1="756.86" x2="444.50" y2="756.86" stroke="#000" stroke-width="1.3" />
<text x="435.00" y="760.86" font-size="11.6" fill="#000" stroke="#000" stroke-width="0.22" text-anchor="end" >0.04</text>
<line x1="441.00" y1="741.70" x2="444.50" y2="741.70" stroke="#000" stroke-width="1.3" />
<text x="435.00" y="745.70" font-size="11.6" fill="#000" stroke="#000" stroke-width="0.22" text-anchor="end" >0.05</text>
<line x1="441.00" y1="726.54" x2="444.50" y2="726.54" stroke="#000" stroke-width="1.3" />
<text x="435.00" y="730.54" font-size="11.6" fill="#000" stroke="#000" stroke-width="0.22" text-anchor="end" >0.06</text>
<line x1="441.00" y1="711.38" x2="444.50" y2="711.38" stroke="#000" stroke-width="1.3" />
<text x="435.00" y="715.38" font-size="11.6" fill="#000" stroke="#000" stroke-width="0.22" text-anchor="end" >0.07</text>
<line x1="441.00" y1="696.22" x2="444.50" y2="696.22" stroke="#000" stroke-width="1.3" />
<text x="435.00" y="700.22" font-size="11.6" fill="#000" stroke="#000" stroke-width="0.22" text-anchor="end" >0.08</text>
<text x="461.00" y="703.70" font-size="11.2" fill="#000" stroke="#000" stroke-width="0.22" text-anchor="start" >p=0.91</text>
<line x1="455.50" y1="710.50" x2="501.20" y2="710.50" stroke="#3a3a3a" stroke-width="1.0" />
<rect x="456.2" y="739.5" width="11.8" height="78" fill="#d67a38"/>
<rect x="492" y="741.7" width="11" height="75.8" fill="#8cf832"/>
<path d="M462,725.5V753.7M459,725.5h6M459,753.7h6M497.5,727.5V755M494.5,727.5h6M494.5,755h6" stroke="#111" stroke-width="1.3" fill="none"/>
<text x="433.40" y="837.00" font-size="11.39" fill="#dd8044" stroke="#dd8044" stroke-width="0.22" text-anchor="start" >Untreated</text>
<text x="442.50" y="851.40" font-size="11.39" fill="#dd8044" stroke="#dd8044" stroke-width="0.22" text-anchor="start" >n=157</text>
<text x="489.50" y="837.00" font-size="11.39" fill="#6bcc40" stroke="#6bcc40" stroke-width="0.22" text-anchor="start" >Taxol</text>
<text x="489.50" y="851.40" font-size="11.39" fill="#6bcc40" stroke="#6bcc40" stroke-width="0.22" text-anchor="start" >n=103</text>
<text transform="translate(406.00,763.00) rotate(-90)" x="0" y="0" font-size="11.35" fill="#000" stroke="#000" stroke-width="0.22" text-anchor="middle" >Detachment Fraction</text>
</svg>
</body></html>
